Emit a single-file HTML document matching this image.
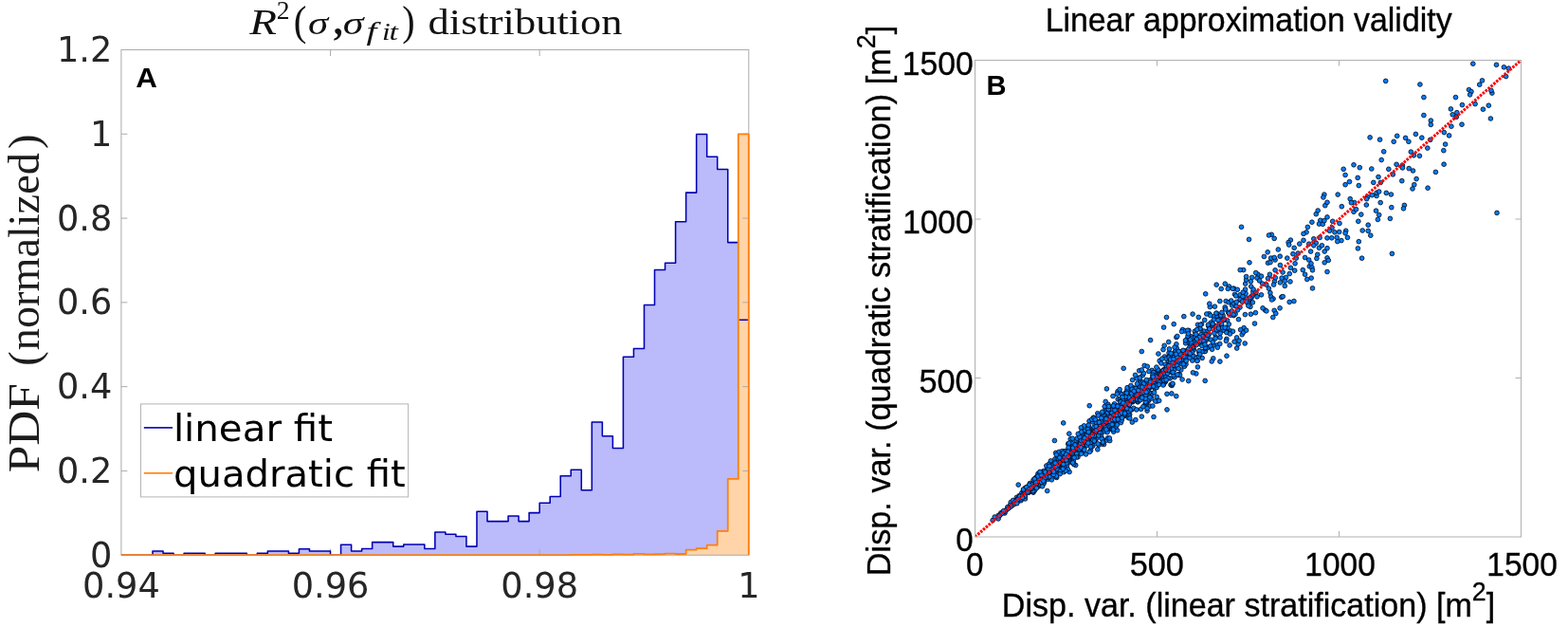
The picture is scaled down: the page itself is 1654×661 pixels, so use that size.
<!DOCTYPE html>
<html><head><meta charset="utf-8"><title>Figure</title>
<style>
html,body{margin:0;padding:0;background:#fff;}
body{width:1654px;height:661px;overflow:hidden;}
svg{display:block;}
.dj{font-family:"DejaVu Sans","Liberation Sans",sans-serif;font-size:36.7px;fill:#262626;}
.ar{font-family:"Liberation Sans",sans-serif;font-size:34px;fill:#000;stroke:#000;stroke-width:0.4px;}
</style></head><body>
<svg width="1654" height="661" viewBox="0 0 1654 661">
<rect width="1654" height="661" fill="#fff"/>
<g id="left">
<path d="M127.90 585.20 L127.90 585.20 L138.93 585.20 L138.93 585.20 L149.96 585.20 L149.96 585.20 L161.00 585.20 L161.00 581.00 L172.03 581.00 L172.03 583.20 L183.06 583.20 L183.06 585.20 L194.09 585.20 L194.09 583.20 L205.12 583.20 L205.12 583.20 L216.15 583.20 L216.15 585.20 L227.19 585.20 L227.19 583.20 L238.22 583.20 L238.22 583.20 L249.25 583.20 L249.25 583.20 L260.28 583.20 L260.28 585.20 L271.31 585.20 L271.31 583.20 L282.34 583.20 L282.34 581.00 L293.38 581.00 L293.38 581.00 L304.41 581.00 L304.41 583.20 L315.44 583.20 L315.44 578.70 L326.47 578.70 L326.47 581.00 L337.50 581.00 L337.50 581.00 L348.53 581.00 L348.53 585.20 L359.56 585.20 L359.56 574.20 L370.60 574.20 L370.60 581.00 L381.63 581.00 L381.63 578.40 L392.66 578.40 L392.66 571.60 L403.69 571.60 L403.69 571.60 L414.72 571.60 L414.72 576.10 L425.75 576.10 L425.75 573.90 L436.79 573.90 L436.79 573.90 L447.82 573.90 L447.82 578.40 L458.85 578.40 L458.85 561.00 L469.88 561.00 L469.88 563.30 L480.91 563.30 L480.91 565.50 L491.94 565.50 L491.94 576.10 L502.98 576.10 L502.98 539.30 L514.01 539.30 L514.01 549.60 L525.04 549.60 L525.04 549.60 L536.07 549.60 L536.07 543.90 L547.10 543.90 L547.10 549.60 L558.13 549.60 L558.13 540.60 L569.17 540.60 L569.17 530.30 L580.20 530.30 L580.20 523.50 L591.23 523.50 L591.23 501.70 L602.26 501.70 L602.26 495.20 L613.29 495.20 L613.29 516.70 L624.32 516.70 L624.32 445.00 L635.36 445.00 L635.36 459.80 L646.39 459.80 L646.39 472.50 L657.42 472.50 L657.42 376.30 L668.45 376.30 L668.45 367.40 L679.48 367.40 L679.48 321.50 L690.51 321.50 L690.51 284.40 L701.55 284.40 L701.55 277.20 L712.58 277.20 L712.58 233.70 L723.61 233.70 L723.61 203.10 L734.64 203.10 L734.64 141.40 L745.67 141.40 L745.67 165.30 L756.70 165.30 L756.70 178.50 L767.74 178.50 L767.74 255.60 L778.77 255.60 L778.77 337.20 L789.80 337.20 L789.80 585.20 Z" fill="#bbbbfb" stroke="none"/>
<path d="M127.90 585.20 L127.90 585.20 L138.93 585.20 L138.93 585.20 L149.96 585.20 L149.96 585.20 L161.00 585.20 L161.00 585.20 L172.03 585.20 L172.03 585.20 L183.06 585.20 L183.06 585.20 L194.09 585.20 L194.09 585.20 L205.12 585.20 L205.12 585.20 L216.15 585.20 L216.15 585.20 L227.19 585.20 L227.19 585.20 L238.22 585.20 L238.22 585.20 L249.25 585.20 L249.25 585.20 L260.28 585.20 L260.28 585.20 L271.31 585.20 L271.31 585.20 L282.34 585.20 L282.34 585.20 L293.38 585.20 L293.38 585.20 L304.41 585.20 L304.41 585.20 L315.44 585.20 L315.44 585.20 L326.47 585.20 L326.47 585.20 L337.50 585.20 L337.50 585.20 L348.53 585.20 L348.53 585.20 L359.56 585.20 L359.56 585.20 L370.60 585.20 L370.60 585.20 L381.63 585.20 L381.63 585.20 L392.66 585.20 L392.66 585.20 L403.69 585.20 L403.69 585.20 L414.72 585.20 L414.72 585.20 L425.75 585.20 L425.75 585.20 L436.79 585.20 L436.79 585.20 L447.82 585.20 L447.82 585.20 L458.85 585.20 L458.85 585.20 L469.88 585.20 L469.88 585.20 L480.91 585.20 L480.91 585.20 L491.94 585.20 L491.94 585.20 L502.98 585.20 L502.98 585.20 L514.01 585.20 L514.01 585.20 L525.04 585.20 L525.04 585.20 L536.07 585.20 L536.07 585.20 L547.10 585.20 L547.10 585.20 L558.13 585.20 L558.13 585.20 L569.17 585.20 L569.17 585.20 L580.20 585.20 L580.20 585.20 L591.23 585.20 L591.23 585.20 L602.26 585.20 L602.26 584.80 L613.29 584.80 L613.29 584.80 L624.32 584.80 L624.32 584.60 L635.36 584.60 L635.36 584.80 L646.39 584.80 L646.39 584.40 L657.42 584.40 L657.42 584.60 L668.45 584.60 L668.45 583.80 L679.48 583.80 L679.48 584.40 L690.51 584.40 L690.51 584.20 L701.55 584.20 L701.55 583.60 L712.58 583.60 L712.58 584.00 L723.61 584.00 L723.61 579.70 L734.64 579.70 L734.64 578.20 L745.67 578.20 L745.67 574.60 L756.70 574.60 L756.70 559.80 L767.74 559.80 L767.74 504.80 L778.77 504.80 L778.77 141.40 L789.80 141.40 L789.80 585.20 Z" fill="#ffd4a8" stroke="none"/>
<rect x="127.90" y="52.50" width="661.90" height="532.70" fill="none" stroke="#ababab" stroke-width="1"/>
<path d="M348.53 585.20 v-6.50 M348.53 52.50 v6.50" stroke="#ababab" stroke-width="1" fill="none"/>
<path d="M569.17 585.20 v-6.50 M569.17 52.50 v6.50" stroke="#ababab" stroke-width="1" fill="none"/>
<path d="M127.90 496.42 h6.50 M789.80 496.42 h-6.50" stroke="#ababab" stroke-width="1" fill="none"/>
<path d="M127.90 407.63 h6.50 M789.80 407.63 h-6.50" stroke="#ababab" stroke-width="1" fill="none"/>
<path d="M127.90 318.85 h6.50 M789.80 318.85 h-6.50" stroke="#ababab" stroke-width="1" fill="none"/>
<path d="M127.90 230.07 h6.50 M789.80 230.07 h-6.50" stroke="#ababab" stroke-width="1" fill="none"/>
<path d="M127.90 141.28 h6.50 M789.80 141.28 h-6.50" stroke="#ababab" stroke-width="1" fill="none"/>
<clipPath id="bc"><rect x="120" y="40" width="680" height="544.80"/></clipPath>
<path d="M127.90 585.20 L127.90 585.20 L138.93 585.20 L138.93 585.20 L149.96 585.20 L149.96 585.20 L161.00 585.20 L161.00 581.00 L172.03 581.00 L172.03 583.20 L183.06 583.20 L183.06 585.20 L194.09 585.20 L194.09 583.20 L205.12 583.20 L205.12 583.20 L216.15 583.20 L216.15 585.20 L227.19 585.20 L227.19 583.20 L238.22 583.20 L238.22 583.20 L249.25 583.20 L249.25 583.20 L260.28 583.20 L260.28 585.20 L271.31 585.20 L271.31 583.20 L282.34 583.20 L282.34 581.00 L293.38 581.00 L293.38 581.00 L304.41 581.00 L304.41 583.20 L315.44 583.20 L315.44 578.70 L326.47 578.70 L326.47 581.00 L337.50 581.00 L337.50 581.00 L348.53 581.00 L348.53 585.20 L359.56 585.20 L359.56 574.20 L370.60 574.20 L370.60 581.00 L381.63 581.00 L381.63 578.40 L392.66 578.40 L392.66 571.60 L403.69 571.60 L403.69 571.60 L414.72 571.60 L414.72 576.10 L425.75 576.10 L425.75 573.90 L436.79 573.90 L436.79 573.90 L447.82 573.90 L447.82 578.40 L458.85 578.40 L458.85 561.00 L469.88 561.00 L469.88 563.30 L480.91 563.30 L480.91 565.50 L491.94 565.50 L491.94 576.10 L502.98 576.10 L502.98 539.30 L514.01 539.30 L514.01 549.60 L525.04 549.60 L525.04 549.60 L536.07 549.60 L536.07 543.90 L547.10 543.90 L547.10 549.60 L558.13 549.60 L558.13 540.60 L569.17 540.60 L569.17 530.30 L580.20 530.30 L580.20 523.50 L591.23 523.50 L591.23 501.70 L602.26 501.70 L602.26 495.20 L613.29 495.20 L613.29 516.70 L624.32 516.70 L624.32 445.00 L635.36 445.00 L635.36 459.80 L646.39 459.80 L646.39 472.50 L657.42 472.50 L657.42 376.30 L668.45 376.30 L668.45 367.40 L679.48 367.40 L679.48 321.50 L690.51 321.50 L690.51 284.40 L701.55 284.40 L701.55 277.20 L712.58 277.20 L712.58 233.70 L723.61 233.70 L723.61 203.10 L734.64 203.10 L734.64 141.40 L745.67 141.40 L745.67 165.30 L756.70 165.30 L756.70 178.50 L767.74 178.50 L767.74 255.60 L778.77 255.60 M779.67 337.20 H788.90" fill="none" stroke="#0000b4" stroke-width="1.55" stroke-linejoin="round" clip-path="url(#bc)"/>
<path d="M127.90 585.20 L127.90 585.20 L138.93 585.20 L138.93 585.20 L149.96 585.20 L149.96 585.20 L161.00 585.20 L161.00 585.20 L172.03 585.20 L172.03 585.20 L183.06 585.20 L183.06 585.20 L194.09 585.20 L194.09 585.20 L205.12 585.20 L205.12 585.20 L216.15 585.20 L216.15 585.20 L227.19 585.20 L227.19 585.20 L238.22 585.20 L238.22 585.20 L249.25 585.20 L249.25 585.20 L260.28 585.20 L260.28 585.20 L271.31 585.20 L271.31 585.20 L282.34 585.20 L282.34 585.20 L293.38 585.20 L293.38 585.20 L304.41 585.20 L304.41 585.20 L315.44 585.20 L315.44 585.20 L326.47 585.20 L326.47 585.20 L337.50 585.20 L337.50 585.20 L348.53 585.20 L348.53 585.20 L359.56 585.20 L359.56 585.20 L370.60 585.20 L370.60 585.20 L381.63 585.20 L381.63 585.20 L392.66 585.20 L392.66 585.20 L403.69 585.20 L403.69 585.20 L414.72 585.20 L414.72 585.20 L425.75 585.20 L425.75 585.20 L436.79 585.20 L436.79 585.20 L447.82 585.20 L447.82 585.20 L458.85 585.20 L458.85 585.20 L469.88 585.20 L469.88 585.20 L480.91 585.20 L480.91 585.20 L491.94 585.20 L491.94 585.20 L502.98 585.20 L502.98 585.20 L514.01 585.20 L514.01 585.20 L525.04 585.20 L525.04 585.20 L536.07 585.20 L536.07 585.20 L547.10 585.20 L547.10 585.20 L558.13 585.20 L558.13 585.20 L569.17 585.20 L569.17 585.20 L580.20 585.20 L580.20 585.20 L591.23 585.20 L591.23 585.20 L602.26 585.20 L602.26 584.80 L613.29 584.80 L613.29 584.80 L624.32 584.80 L624.32 584.60 L635.36 584.60 L635.36 584.80 L646.39 584.80 L646.39 584.40 L657.42 584.40 L657.42 584.60 L668.45 584.60 L668.45 583.80 L679.48 583.80 L679.48 584.40 L690.51 584.40 L690.51 584.20 L701.55 584.20 L701.55 583.60 L712.58 583.60 L712.58 584.00 L723.61 584.00 L723.61 579.70 L734.64 579.70 L734.64 578.20 L745.67 578.20 L745.67 574.60 L756.70 574.60 L756.70 559.80 L767.74 559.80 L767.74 504.80 L778.77 504.80 L778.77 141.40 L789.80 141.40 L789.80 585.20" fill="none" stroke="#ff7f0e" stroke-width="1.8" stroke-linejoin="round"/>
<text x="127.90" y="629.7" class="dj" text-anchor="middle">0.94</text>
<text x="348.53" y="629.7" class="dj" text-anchor="middle">0.96</text>
<text x="569.17" y="629.7" class="dj" text-anchor="middle">0.98</text>
<text x="789.80" y="629.7" class="dj" text-anchor="middle">1</text>
<text x="118.4" y="597.70" class="dj" text-anchor="end">0</text>
<text x="118.4" y="508.92" class="dj" text-anchor="end">0.2</text>
<text x="118.4" y="420.13" class="dj" text-anchor="end">0.4</text>
<text x="118.4" y="331.35" class="dj" text-anchor="end">0.6</text>
<text x="118.4" y="242.57" class="dj" text-anchor="end">0.8</text>
<text x="118.4" y="153.78" class="dj" text-anchor="end">1</text>
<text x="118.4" y="65.00" class="dj" text-anchor="end">1.2</text>
<text transform="translate(263.20 35.70) scale(1.2085 1.0000)" font-family="'Liberation Serif',serif" font-style="italic" font-weight="normal" font-size="39" fill="#111" >R</text>
<text transform="translate(291.77 20.30) scale(1.0634 1.0203)" font-family="'Liberation Serif',serif" font-style="normal" font-weight="normal" font-size="26" fill="#111" >2</text>
<text transform="translate(309.86 36.50) scale(1.0500 1.1518)" font-family="'Liberation Serif',serif" font-style="normal" font-weight="normal" font-size="39" fill="#111" >(</text>
<text transform="translate(324.92 35.76) scale(1.1013 0.8723)" font-family="'Liberation Serif',serif" font-style="italic" font-weight="normal" font-size="39" fill="#111" >σ</text>
<text transform="translate(351.79 36.46) scale(1.0194 1.0894)" font-family="'Liberation Serif',serif" font-style="normal" font-weight="bold" font-size="39" fill="#111" >,</text>
<text transform="translate(361.78 35.76) scale(1.1325 0.8723)" font-family="'Liberation Serif',serif" font-style="italic" font-weight="normal" font-size="39" fill="#111" >σ</text>
<text transform="translate(386.42 42.20) scale(1.5100 1.0189)" font-family="'Liberation Serif',serif" font-style="italic" font-weight="normal" font-size="26" fill="#111" >f</text>
<text transform="translate(403.07 41.70) scale(1.2200 1.0000)" font-family="'Liberation Serif',serif" font-style="italic" font-weight="normal" font-size="26" fill="#111" >i</text>
<text transform="translate(410.57 41.70) scale(1.3077 1.0000)" font-family="'Liberation Serif',serif" font-style="italic" font-weight="normal" font-size="26" fill="#111" >t</text>
<text transform="translate(424.21 36.50) scale(1.0300 1.1518)" font-family="'Liberation Serif',serif" font-style="normal" font-weight="normal" font-size="39" fill="#111" >)</text>
<text transform="translate(451.62 36.00) scale(1.1819 1.0000)" font-family="'Liberation Serif',serif" font-style="normal" font-weight="normal" font-size="37.6" fill="#111" >distribution</text>
<text transform="translate(41.20 496.80) rotate(-90) scale(1.1030 1.0000)" x="-1.25" y="0" font-family="'Liberation Serif',serif" font-style="normal" font-weight="normal" font-size="46.5" fill="#1c1c1c" >PDF</text>
<text transform="translate(41.20 383.70) rotate(-90) scale(1.0000 1.0000)" x="-2.00" y="0" font-family="'Liberation Serif',serif" font-style="normal" font-weight="normal" font-size="46.5" fill="#1c1c1c" >(</text>
<text transform="translate(41.20 368.20) rotate(-90) scale(0.9945 1.0000)" x="-1.00" y="0" font-family="'Liberation Serif',serif" font-style="normal" font-weight="normal" font-size="46.5" fill="#1c1c1c" >normalized</text>
<text transform="translate(41.20 155.60) rotate(-90) scale(1.0000 1.0000)" x="-1.50" y="0" font-family="'Liberation Serif',serif" font-style="normal" font-weight="normal" font-size="46.5" fill="#1c1c1c" >)</text>
<text transform="translate(143.22 91.80) scale(1.0450 1.0000)" font-family="'Liberation Sans',sans-serif" font-style="normal" font-weight="bold" font-size="30" fill="#000" >A</text>
<rect x="148.5" y="425.9" width="282.1" height="98" fill="#fff" stroke="#b4b4b4" stroke-width="1"/>
<path d="M151.8 450.9 H182.1" stroke="#0000b4" stroke-width="1.6"/>
<path d="M151.8 498.8 H182.1" stroke="#ff7f0e" stroke-width="1.6"/>
<text transform="translate(182.90 464.50) scale(1.0395 1.0000)" font-family="'DejaVu Sans',sans-serif" font-style="normal" font-weight="normal" font-size="38.8" fill="#000" >linear fit</text>
<text transform="translate(183.07 513.10) scale(1.0338 1.0000)" font-family="'DejaVu Sans',sans-serif" font-style="normal" font-weight="normal" font-size="38.8" fill="#000" >quadratic fit</text>
</g>
<g id="right">
<rect x="1028.50" y="63.50" width="576.00" height="502.50" fill="none" stroke="#b0b0b0" stroke-width="1"/>
<path d="M1220.50 566.00 v-6 M1220.50 63.50 v6 M1028.50 398.50 h6 M1604.50 398.50 h-6" stroke="#b0b0b0" stroke-width="1" fill="none"/>
<path d="M1412.50 566.00 v-6 M1412.50 63.50 v6 M1028.50 231.00 h6 M1604.50 231.00 h-6" stroke="#b0b0b0" stroke-width="1" fill="none"/>
<g fill="#0080ff" stroke="#020c24" stroke-width="0.85">
<circle cx="1179.2" cy="420.9" r="2.35"/>
<circle cx="1217.8" cy="392.5" r="2.35"/>
<circle cx="1231.4" cy="392.8" r="2.35"/>
<circle cx="1144.8" cy="468.6" r="2.35"/>
<circle cx="1202.1" cy="398.1" r="2.35"/>
<circle cx="1392.8" cy="232.3" r="2.35"/>
<circle cx="1159.5" cy="457.3" r="2.35"/>
<circle cx="1166.7" cy="431.7" r="2.35"/>
<circle cx="1130.7" cy="475.8" r="2.35"/>
<circle cx="1188.6" cy="422.0" r="2.35"/>
<circle cx="1074.2" cy="511.1" r="2.35"/>
<circle cx="1082.1" cy="514.8" r="2.35"/>
<circle cx="1096.2" cy="509.0" r="2.35"/>
<circle cx="1205.5" cy="395.5" r="2.35"/>
<circle cx="1146.4" cy="465.3" r="2.35"/>
<circle cx="1109.5" cy="497.7" r="2.35"/>
<circle cx="1244.0" cy="394.8" r="2.35"/>
<circle cx="1149.0" cy="443.9" r="2.35"/>
<circle cx="1249.6" cy="374.0" r="2.35"/>
<circle cx="1151.1" cy="454.0" r="2.35"/>
<circle cx="1228.6" cy="376.0" r="2.35"/>
<circle cx="1189.1" cy="425.6" r="2.35"/>
<circle cx="1092.0" cy="504.1" r="2.35"/>
<circle cx="1361.0" cy="296.9" r="2.35"/>
<circle cx="1141.3" cy="472.2" r="2.35"/>
<circle cx="1166.7" cy="450.1" r="2.35"/>
<circle cx="1090.7" cy="515.3" r="2.35"/>
<circle cx="1170.6" cy="452.6" r="2.35"/>
<circle cx="1270.4" cy="370.6" r="2.35"/>
<circle cx="1506.1" cy="198.2" r="2.35"/>
<circle cx="1213.9" cy="405.9" r="2.35"/>
<circle cx="1253.6" cy="373.1" r="2.35"/>
<circle cx="1157.8" cy="435.8" r="2.35"/>
<circle cx="1086.4" cy="509.5" r="2.35"/>
<circle cx="1141.5" cy="454.6" r="2.35"/>
<circle cx="1132.2" cy="474.5" r="2.35"/>
<circle cx="1185.4" cy="425.8" r="2.35"/>
<circle cx="1133.8" cy="473.7" r="2.35"/>
<circle cx="1120.6" cy="485.3" r="2.35"/>
<circle cx="1268.2" cy="377.4" r="2.35"/>
<circle cx="1114.0" cy="498.4" r="2.35"/>
<circle cx="1274.0" cy="366.2" r="2.35"/>
<circle cx="1318.2" cy="317.7" r="2.35"/>
<circle cx="1254.0" cy="348.4" r="2.35"/>
<circle cx="1464.8" cy="178.3" r="2.35"/>
<circle cx="1214.6" cy="406.1" r="2.35"/>
<circle cx="1167.4" cy="409.9" r="2.35"/>
<circle cx="1340.6" cy="312.7" r="2.35"/>
<circle cx="1166.2" cy="423.4" r="2.35"/>
<circle cx="1334.6" cy="327.0" r="2.35"/>
<circle cx="1110.2" cy="496.6" r="2.35"/>
<circle cx="1469.3" cy="183.9" r="2.35"/>
<circle cx="1578.5" cy="68.3" r="2.35"/>
<circle cx="1206.4" cy="393.4" r="2.35"/>
<circle cx="1134.7" cy="475.7" r="2.35"/>
<circle cx="1412.7" cy="244.5" r="2.35"/>
<circle cx="1216.4" cy="398.2" r="2.35"/>
<circle cx="1542.0" cy="131.2" r="2.35"/>
<circle cx="1528.6" cy="142.9" r="2.35"/>
<circle cx="1452.1" cy="206.5" r="2.35"/>
<circle cx="1152.8" cy="458.9" r="2.35"/>
<circle cx="1165.5" cy="449.1" r="2.35"/>
<circle cx="1202.8" cy="420.1" r="2.35"/>
<circle cx="1158.0" cy="449.6" r="2.35"/>
<circle cx="1090.1" cy="519.1" r="2.35"/>
<circle cx="1327.0" cy="289.3" r="2.35"/>
<circle cx="1096.1" cy="509.6" r="2.35"/>
<circle cx="1146.3" cy="461.0" r="2.35"/>
<circle cx="1187.5" cy="428.5" r="2.35"/>
<circle cx="1407.9" cy="244.8" r="2.35"/>
<circle cx="1250.6" cy="361.8" r="2.35"/>
<circle cx="1127.2" cy="481.5" r="2.35"/>
<circle cx="1186.5" cy="417.6" r="2.35"/>
<circle cx="1245.1" cy="371.0" r="2.35"/>
<circle cx="1205.0" cy="410.8" r="2.35"/>
<circle cx="1105.6" cy="500.3" r="2.35"/>
<circle cx="1113.8" cy="490.4" r="2.35"/>
<circle cx="1155.5" cy="450.5" r="2.35"/>
<circle cx="1310.2" cy="352.7" r="2.35"/>
<circle cx="1082.9" cy="517.5" r="2.35"/>
<circle cx="1493.4" cy="141.4" r="2.35"/>
<circle cx="1234.1" cy="378.7" r="2.35"/>
<circle cx="1138.1" cy="466.5" r="2.35"/>
<circle cx="1122.1" cy="497.7" r="2.35"/>
<circle cx="1190.5" cy="413.6" r="2.35"/>
<circle cx="1090.0" cy="506.0" r="2.35"/>
<circle cx="1180.6" cy="439.5" r="2.35"/>
<circle cx="1077.9" cy="519.6" r="2.35"/>
<circle cx="1113.1" cy="495.8" r="2.35"/>
<circle cx="1133.2" cy="470.8" r="2.35"/>
<circle cx="1112.9" cy="490.9" r="2.35"/>
<circle cx="1224.2" cy="393.3" r="2.35"/>
<circle cx="1152.2" cy="458.9" r="2.35"/>
<circle cx="1302.1" cy="360.2" r="2.35"/>
<circle cx="1105.1" cy="504.4" r="2.35"/>
<circle cx="1156.7" cy="453.1" r="2.35"/>
<circle cx="1212.1" cy="401.9" r="2.35"/>
<circle cx="1093.7" cy="508.1" r="2.35"/>
<circle cx="1432.2" cy="187.4" r="2.35"/>
<circle cx="1167.5" cy="442.1" r="2.35"/>
<circle cx="1508.7" cy="147.4" r="2.35"/>
<circle cx="1132.4" cy="471.1" r="2.35"/>
<circle cx="1143.5" cy="472.8" r="2.35"/>
<circle cx="1380.7" cy="257.2" r="2.35"/>
<circle cx="1093.9" cy="510.0" r="2.35"/>
<circle cx="1160.9" cy="451.8" r="2.35"/>
<circle cx="1286.8" cy="317.5" r="2.35"/>
<circle cx="1267.5" cy="341.8" r="2.35"/>
<circle cx="1121.0" cy="482.4" r="2.35"/>
<circle cx="1177.8" cy="428.6" r="2.35"/>
<circle cx="1211.2" cy="419.4" r="2.35"/>
<circle cx="1195.0" cy="423.7" r="2.35"/>
<circle cx="1210.0" cy="410.1" r="2.35"/>
<circle cx="1264.2" cy="355.0" r="2.35"/>
<circle cx="1490.0" cy="199.0" r="2.35"/>
<circle cx="1443.2" cy="237.2" r="2.35"/>
<circle cx="1341.3" cy="247.3" r="2.35"/>
<circle cx="1086.6" cy="512.8" r="2.35"/>
<circle cx="1573.9" cy="98.1" r="2.35"/>
<circle cx="1088.9" cy="513.1" r="2.35"/>
<circle cx="1137.9" cy="475.1" r="2.35"/>
<circle cx="1124.0" cy="483.3" r="2.35"/>
<circle cx="1155.7" cy="458.0" r="2.35"/>
<circle cx="1435.8" cy="226.1" r="2.35"/>
<circle cx="1355.3" cy="301.4" r="2.35"/>
<circle cx="1137.0" cy="481.8" r="2.35"/>
<circle cx="1167.4" cy="445.1" r="2.35"/>
<circle cx="1245.8" cy="378.6" r="2.35"/>
<circle cx="1129.4" cy="482.2" r="2.35"/>
<circle cx="1096.3" cy="505.7" r="2.35"/>
<circle cx="1107.8" cy="488.2" r="2.35"/>
<circle cx="1445.1" cy="144.9" r="2.35"/>
<circle cx="1193.6" cy="411.9" r="2.35"/>
<circle cx="1083.7" cy="517.9" r="2.35"/>
<circle cx="1388.3" cy="256.2" r="2.35"/>
<circle cx="1107.4" cy="493.1" r="2.35"/>
<circle cx="1108.3" cy="495.7" r="2.35"/>
<circle cx="1102.5" cy="500.0" r="2.35"/>
<circle cx="1140.0" cy="472.7" r="2.35"/>
<circle cx="1157.2" cy="460.6" r="2.35"/>
<circle cx="1297.9" cy="348.9" r="2.35"/>
<circle cx="1219.1" cy="402.1" r="2.35"/>
<circle cx="1459.7" cy="159.8" r="2.35"/>
<circle cx="1271.2" cy="401.4" r="2.35"/>
<circle cx="1388.3" cy="225.7" r="2.35"/>
<circle cx="1103.7" cy="500.5" r="2.35"/>
<circle cx="1083.8" cy="514.2" r="2.35"/>
<circle cx="1294.6" cy="337.8" r="2.35"/>
<circle cx="1208.7" cy="410.9" r="2.35"/>
<circle cx="1419.1" cy="184.5" r="2.35"/>
<circle cx="1360.3" cy="288.6" r="2.35"/>
<circle cx="1202.6" cy="401.0" r="2.35"/>
<circle cx="1320.0" cy="314.1" r="2.35"/>
<circle cx="1109.6" cy="499.4" r="2.35"/>
<circle cx="1301.6" cy="304.2" r="2.35"/>
<circle cx="1171.1" cy="451.3" r="2.35"/>
<circle cx="1222.0" cy="400.8" r="2.35"/>
<circle cx="1201.7" cy="390.8" r="2.35"/>
<circle cx="1118.7" cy="496.8" r="2.35"/>
<circle cx="1181.4" cy="420.9" r="2.35"/>
<circle cx="1193.8" cy="431.9" r="2.35"/>
<circle cx="1144.4" cy="469.9" r="2.35"/>
<circle cx="1456.2" cy="213.6" r="2.35"/>
<circle cx="1432.8" cy="233.3" r="2.35"/>
<circle cx="1283.2" cy="300.2" r="2.35"/>
<circle cx="1058.1" cy="539.6" r="2.35"/>
<circle cx="1245.4" cy="374.0" r="2.35"/>
<circle cx="1129.2" cy="462.8" r="2.35"/>
<circle cx="1120.7" cy="489.2" r="2.35"/>
<circle cx="1069.7" cy="529.2" r="2.35"/>
<circle cx="1290.3" cy="335.7" r="2.35"/>
<circle cx="1350.1" cy="324.8" r="2.35"/>
<circle cx="1168.7" cy="445.0" r="2.35"/>
<circle cx="1142.1" cy="462.1" r="2.35"/>
<circle cx="1119.3" cy="482.0" r="2.35"/>
<circle cx="1400.0" cy="250.9" r="2.35"/>
<circle cx="1136.4" cy="476.8" r="2.35"/>
<circle cx="1149.7" cy="457.6" r="2.35"/>
<circle cx="1231.9" cy="390.0" r="2.35"/>
<circle cx="1461.7" cy="85.4" r="2.35"/>
<circle cx="1175.2" cy="439.7" r="2.35"/>
<circle cx="1153.5" cy="440.2" r="2.35"/>
<circle cx="1441.3" cy="216.0" r="2.35"/>
<circle cx="1101.4" cy="508.3" r="2.35"/>
<circle cx="1530.9" cy="133.2" r="2.35"/>
<circle cx="1428.0" cy="223.3" r="2.35"/>
<circle cx="1229.0" cy="391.0" r="2.35"/>
<circle cx="1111.2" cy="489.8" r="2.35"/>
<circle cx="1067.3" cy="531.4" r="2.35"/>
<circle cx="1215.8" cy="399.0" r="2.35"/>
<circle cx="1270.1" cy="349.1" r="2.35"/>
<circle cx="1214.9" cy="402.2" r="2.35"/>
<circle cx="1160.6" cy="446.5" r="2.35"/>
<circle cx="1252.4" cy="357.4" r="2.35"/>
<circle cx="1497.9" cy="89.0" r="2.35"/>
<circle cx="1215.1" cy="390.4" r="2.35"/>
<circle cx="1134.9" cy="480.2" r="2.35"/>
<circle cx="1171.8" cy="446.7" r="2.35"/>
<circle cx="1392.1" cy="250.5" r="2.35"/>
<circle cx="1345.1" cy="274.0" r="2.35"/>
<circle cx="1207.9" cy="408.2" r="2.35"/>
<circle cx="1138.0" cy="463.6" r="2.35"/>
<circle cx="1320.7" cy="292.5" r="2.35"/>
<circle cx="1424.2" cy="209.7" r="2.35"/>
<circle cx="1433.3" cy="195.6" r="2.35"/>
<circle cx="1100.8" cy="509.3" r="2.35"/>
<circle cx="1322.8" cy="309.9" r="2.35"/>
<circle cx="1173.7" cy="432.0" r="2.35"/>
<circle cx="1101.0" cy="503.7" r="2.35"/>
<circle cx="1175.5" cy="425.8" r="2.35"/>
<circle cx="1164.5" cy="468.5" r="2.35"/>
<circle cx="1317.1" cy="316.7" r="2.35"/>
<circle cx="1181.7" cy="432.4" r="2.35"/>
<circle cx="1289.9" cy="337.8" r="2.35"/>
<circle cx="1206.2" cy="414.3" r="2.35"/>
<circle cx="1107.6" cy="497.5" r="2.35"/>
<circle cx="1134.2" cy="477.3" r="2.35"/>
<circle cx="1117.6" cy="488.0" r="2.35"/>
<circle cx="1147.7" cy="457.1" r="2.35"/>
<circle cx="1292.4" cy="325.2" r="2.35"/>
<circle cx="1204.3" cy="439.1" r="2.35"/>
<circle cx="1144.6" cy="464.8" r="2.35"/>
<circle cx="1211.7" cy="403.5" r="2.35"/>
<circle cx="1233.0" cy="372.1" r="2.35"/>
<circle cx="1163.4" cy="439.1" r="2.35"/>
<circle cx="1206.9" cy="413.3" r="2.35"/>
<circle cx="1200.2" cy="409.5" r="2.35"/>
<circle cx="1218.3" cy="404.1" r="2.35"/>
<circle cx="1263.4" cy="386.9" r="2.35"/>
<circle cx="1223.9" cy="400.9" r="2.35"/>
<circle cx="1096.0" cy="508.4" r="2.35"/>
<circle cx="1211.4" cy="422.7" r="2.35"/>
<circle cx="1186.3" cy="437.9" r="2.35"/>
<circle cx="1152.6" cy="444.9" r="2.35"/>
<circle cx="1108.9" cy="495.3" r="2.35"/>
<circle cx="1137.8" cy="476.9" r="2.35"/>
<circle cx="1337.2" cy="265.8" r="2.35"/>
<circle cx="1397.8" cy="216.7" r="2.35"/>
<circle cx="1180.1" cy="439.0" r="2.35"/>
<circle cx="1128.8" cy="476.3" r="2.35"/>
<circle cx="1301.4" cy="332.6" r="2.35"/>
<circle cx="1454.7" cy="226.6" r="2.35"/>
<circle cx="1311.7" cy="284.6" r="2.35"/>
<circle cx="1191.7" cy="436.9" r="2.35"/>
<circle cx="1213.7" cy="418.1" r="2.35"/>
<circle cx="1280.8" cy="333.7" r="2.35"/>
<circle cx="1275.7" cy="344.2" r="2.35"/>
<circle cx="1258.9" cy="367.6" r="2.35"/>
<circle cx="1221.6" cy="390.5" r="2.35"/>
<circle cx="1148.2" cy="449.8" r="2.35"/>
<circle cx="1351.8" cy="313.2" r="2.35"/>
<circle cx="1074.2" cy="528.0" r="2.35"/>
<circle cx="1113.7" cy="477.4" r="2.35"/>
<circle cx="1123.2" cy="475.7" r="2.35"/>
<circle cx="1098.0" cy="506.4" r="2.35"/>
<circle cx="1192.5" cy="414.2" r="2.35"/>
<circle cx="1203.5" cy="403.3" r="2.35"/>
<circle cx="1111.6" cy="496.0" r="2.35"/>
<circle cx="1400.0" cy="213.3" r="2.35"/>
<circle cx="1085.3" cy="518.9" r="2.35"/>
<circle cx="1150.7" cy="466.6" r="2.35"/>
<circle cx="1153.0" cy="469.7" r="2.35"/>
<circle cx="1137.5" cy="472.1" r="2.35"/>
<circle cx="1115.6" cy="485.5" r="2.35"/>
<circle cx="1076.5" cy="526.2" r="2.35"/>
<circle cx="1101.8" cy="503.7" r="2.35"/>
<circle cx="1115.5" cy="492.1" r="2.35"/>
<circle cx="1266.9" cy="360.5" r="2.35"/>
<circle cx="1234.2" cy="398.9" r="2.35"/>
<circle cx="1247.1" cy="400.0" r="2.35"/>
<circle cx="1536.3" cy="123.3" r="2.35"/>
<circle cx="1068.0" cy="530.0" r="2.35"/>
<circle cx="1523.1" cy="173.2" r="2.35"/>
<circle cx="1385.8" cy="258.8" r="2.35"/>
<circle cx="1180.5" cy="435.6" r="2.35"/>
<circle cx="1089.0" cy="511.2" r="2.35"/>
<circle cx="1141.1" cy="460.8" r="2.35"/>
<circle cx="1312.1" cy="345.6" r="2.35"/>
<circle cx="1235.4" cy="379.0" r="2.35"/>
<circle cx="1234.8" cy="392.3" r="2.35"/>
<circle cx="1119.8" cy="480.8" r="2.35"/>
<circle cx="1176.6" cy="434.0" r="2.35"/>
<circle cx="1094.6" cy="513.4" r="2.35"/>
<circle cx="1092.7" cy="506.8" r="2.35"/>
<circle cx="1120.9" cy="483.5" r="2.35"/>
<circle cx="1284.1" cy="363.9" r="2.35"/>
<circle cx="1340.6" cy="272.1" r="2.35"/>
<circle cx="1215.5" cy="403.0" r="2.35"/>
<circle cx="1201.1" cy="415.2" r="2.35"/>
<circle cx="1108.9" cy="493.5" r="2.35"/>
<circle cx="1443.2" cy="243.4" r="2.35"/>
<circle cx="1274.2" cy="348.9" r="2.35"/>
<circle cx="1186.1" cy="427.0" r="2.35"/>
<circle cx="1143.9" cy="471.8" r="2.35"/>
<circle cx="1419.7" cy="243.3" r="2.35"/>
<circle cx="1159.6" cy="448.4" r="2.35"/>
<circle cx="1280.9" cy="351.3" r="2.35"/>
<circle cx="1187.2" cy="430.4" r="2.35"/>
<circle cx="1185.9" cy="438.4" r="2.35"/>
<circle cx="1174.7" cy="455.2" r="2.35"/>
<circle cx="1191.4" cy="426.0" r="2.35"/>
<circle cx="1085.9" cy="514.8" r="2.35"/>
<circle cx="1288.3" cy="343.1" r="2.35"/>
<circle cx="1089.9" cy="512.0" r="2.35"/>
<circle cx="1248.4" cy="372.8" r="2.35"/>
<circle cx="1164.0" cy="434.2" r="2.35"/>
<circle cx="1264.8" cy="371.4" r="2.35"/>
<circle cx="1059.9" cy="541.0" r="2.35"/>
<circle cx="1214.1" cy="400.6" r="2.35"/>
<circle cx="1117.2" cy="476.4" r="2.35"/>
<circle cx="1321.8" cy="307.7" r="2.35"/>
<circle cx="1224.8" cy="395.8" r="2.35"/>
<circle cx="1152.1" cy="461.5" r="2.35"/>
<circle cx="1103.3" cy="501.3" r="2.35"/>
<circle cx="1076.7" cy="525.1" r="2.35"/>
<circle cx="1208.7" cy="414.0" r="2.35"/>
<circle cx="1247.3" cy="373.7" r="2.35"/>
<circle cx="1238.2" cy="341.7" r="2.35"/>
<circle cx="1381.3" cy="280.8" r="2.35"/>
<circle cx="1379.4" cy="239.4" r="2.35"/>
<circle cx="1218.4" cy="409.2" r="2.35"/>
<circle cx="1227.6" cy="389.8" r="2.35"/>
<circle cx="1243.6" cy="380.3" r="2.35"/>
<circle cx="1136.1" cy="463.8" r="2.35"/>
<circle cx="1104.9" cy="493.0" r="2.35"/>
<circle cx="1095.0" cy="499.3" r="2.35"/>
<circle cx="1308.2" cy="284.6" r="2.35"/>
<circle cx="1121.7" cy="483.8" r="2.35"/>
<circle cx="1296.5" cy="302.0" r="2.35"/>
<circle cx="1153.6" cy="454.7" r="2.35"/>
<circle cx="1198.6" cy="415.3" r="2.35"/>
<circle cx="1249.9" cy="370.7" r="2.35"/>
<circle cx="1167.5" cy="442.5" r="2.35"/>
<circle cx="1062.3" cy="536.5" r="2.35"/>
<circle cx="1248.6" cy="375.0" r="2.35"/>
<circle cx="1289.5" cy="332.0" r="2.35"/>
<circle cx="1111.5" cy="497.1" r="2.35"/>
<circle cx="1159.9" cy="447.9" r="2.35"/>
<circle cx="1108.4" cy="485.9" r="2.35"/>
<circle cx="1190.4" cy="430.0" r="2.35"/>
<circle cx="1303.2" cy="322.6" r="2.35"/>
<circle cx="1302.5" cy="310.3" r="2.35"/>
<circle cx="1122.7" cy="485.1" r="2.35"/>
<circle cx="1284.1" cy="333.3" r="2.35"/>
<circle cx="1226.2" cy="395.7" r="2.35"/>
<circle cx="1110.0" cy="491.0" r="2.35"/>
<circle cx="1505.8" cy="156.1" r="2.35"/>
<circle cx="1162.6" cy="451.8" r="2.35"/>
<circle cx="1217.9" cy="397.9" r="2.35"/>
<circle cx="1229.6" cy="402.2" r="2.35"/>
<circle cx="1157.4" cy="444.7" r="2.35"/>
<circle cx="1153.2" cy="442.2" r="2.35"/>
<circle cx="1282.4" cy="355.4" r="2.35"/>
<circle cx="1405.1" cy="240.1" r="2.35"/>
<circle cx="1129.8" cy="487.2" r="2.35"/>
<circle cx="1278.4" cy="341.8" r="2.35"/>
<circle cx="1161.6" cy="459.2" r="2.35"/>
<circle cx="1155.0" cy="450.8" r="2.35"/>
<circle cx="1165.1" cy="439.4" r="2.35"/>
<circle cx="1319.7" cy="302.0" r="2.35"/>
<circle cx="1204.1" cy="419.9" r="2.35"/>
<circle cx="1220.1" cy="408.6" r="2.35"/>
<circle cx="1127.8" cy="457.2" r="2.35"/>
<circle cx="1088.2" cy="513.7" r="2.35"/>
<circle cx="1088.4" cy="511.6" r="2.35"/>
<circle cx="1216.4" cy="394.2" r="2.35"/>
<circle cx="1276.3" cy="323.5" r="2.35"/>
<circle cx="1175.6" cy="440.1" r="2.35"/>
<circle cx="1163.0" cy="448.6" r="2.35"/>
<circle cx="1361.4" cy="253.1" r="2.35"/>
<circle cx="1282.1" cy="356.8" r="2.35"/>
<circle cx="1396.9" cy="205.1" r="2.35"/>
<circle cx="1282.1" cy="345.4" r="2.35"/>
<circle cx="1119.8" cy="481.6" r="2.35"/>
<circle cx="1228.3" cy="389.9" r="2.35"/>
<circle cx="1207.8" cy="403.3" r="2.35"/>
<circle cx="1219.0" cy="394.7" r="2.35"/>
<circle cx="1457.2" cy="168.6" r="2.35"/>
<circle cx="1150.4" cy="456.9" r="2.35"/>
<circle cx="1247.5" cy="347.5" r="2.35"/>
<circle cx="1142.7" cy="475.6" r="2.35"/>
<circle cx="1080.5" cy="523.1" r="2.35"/>
<circle cx="1167.4" cy="464.1" r="2.35"/>
<circle cx="1291.5" cy="337.1" r="2.35"/>
<circle cx="1145.7" cy="454.2" r="2.35"/>
<circle cx="1428.6" cy="213.5" r="2.35"/>
<circle cx="1259.2" cy="369.0" r="2.35"/>
<circle cx="1172.1" cy="447.2" r="2.35"/>
<circle cx="1101.2" cy="503.1" r="2.35"/>
<circle cx="1233.4" cy="367.9" r="2.35"/>
<circle cx="1084.9" cy="519.2" r="2.35"/>
<circle cx="1299.7" cy="322.0" r="2.35"/>
<circle cx="1087.8" cy="514.3" r="2.35"/>
<circle cx="1128.7" cy="480.6" r="2.35"/>
<circle cx="1117.8" cy="488.9" r="2.35"/>
<circle cx="1553.8" cy="67.2" r="2.35"/>
<circle cx="1197.3" cy="416.1" r="2.35"/>
<circle cx="1239.8" cy="386.2" r="2.35"/>
<circle cx="1219.9" cy="400.0" r="2.35"/>
<circle cx="1200.2" cy="423.8" r="2.35"/>
<circle cx="1200.9" cy="422.8" r="2.35"/>
<circle cx="1155.9" cy="451.6" r="2.35"/>
<circle cx="1250.2" cy="370.1" r="2.35"/>
<circle cx="1179.0" cy="412.7" r="2.35"/>
<circle cx="1175.0" cy="434.1" r="2.35"/>
<circle cx="1093.4" cy="502.9" r="2.35"/>
<circle cx="1187.8" cy="422.9" r="2.35"/>
<circle cx="1115.2" cy="492.9" r="2.35"/>
<circle cx="1097.5" cy="501.8" r="2.35"/>
<circle cx="1254.5" cy="357.4" r="2.35"/>
<circle cx="1222.2" cy="405.2" r="2.35"/>
<circle cx="1172.3" cy="438.0" r="2.35"/>
<circle cx="1133.7" cy="477.5" r="2.35"/>
<circle cx="1151.4" cy="453.1" r="2.35"/>
<circle cx="1388.9" cy="272.4" r="2.35"/>
<circle cx="1494.1" cy="188.6" r="2.35"/>
<circle cx="1337.5" cy="277.2" r="2.35"/>
<circle cx="1257.8" cy="380.1" r="2.35"/>
<circle cx="1271.4" cy="370.3" r="2.35"/>
<circle cx="1391.5" cy="236.1" r="2.35"/>
<circle cx="1072.4" cy="524.4" r="2.35"/>
<circle cx="1112.9" cy="493.3" r="2.35"/>
<circle cx="1143.3" cy="462.1" r="2.35"/>
<circle cx="1102.3" cy="504.7" r="2.35"/>
<circle cx="1436.6" cy="272.2" r="2.35"/>
<circle cx="1086.8" cy="511.2" r="2.35"/>
<circle cx="1307.5" cy="312.1" r="2.35"/>
<circle cx="1143.5" cy="475.7" r="2.35"/>
<circle cx="1097.0" cy="508.1" r="2.35"/>
<circle cx="1188.7" cy="438.3" r="2.35"/>
<circle cx="1144.3" cy="454.2" r="2.35"/>
<circle cx="1300.5" cy="349.3" r="2.35"/>
<circle cx="1080.0" cy="519.1" r="2.35"/>
<circle cx="1201.3" cy="415.1" r="2.35"/>
<circle cx="1376.6" cy="289.3" r="2.35"/>
<circle cx="1072.0" cy="530.1" r="2.35"/>
<circle cx="1272.3" cy="356.7" r="2.35"/>
<circle cx="1224.0" cy="403.8" r="2.35"/>
<circle cx="1257.2" cy="360.4" r="2.35"/>
<circle cx="1185.3" cy="428.6" r="2.35"/>
<circle cx="1093.2" cy="506.0" r="2.35"/>
<circle cx="1196.4" cy="413.9" r="2.35"/>
<circle cx="1348.3" cy="263.0" r="2.35"/>
<circle cx="1146.9" cy="461.3" r="2.35"/>
<circle cx="1172.8" cy="447.6" r="2.35"/>
<circle cx="1260.0" cy="362.5" r="2.35"/>
<circle cx="1165.4" cy="449.1" r="2.35"/>
<circle cx="1196.2" cy="409.1" r="2.35"/>
<circle cx="1188.1" cy="414.7" r="2.35"/>
<circle cx="1168.1" cy="429.8" r="2.35"/>
<circle cx="1104.7" cy="500.1" r="2.35"/>
<circle cx="1251.0" cy="376.3" r="2.35"/>
<circle cx="1174.0" cy="417.6" r="2.35"/>
<circle cx="1053.1" cy="546.9" r="2.35"/>
<circle cx="1190.0" cy="427.3" r="2.35"/>
<circle cx="1272.2" cy="367.7" r="2.35"/>
<circle cx="1082.3" cy="518.1" r="2.35"/>
<circle cx="1288.2" cy="304.5" r="2.35"/>
<circle cx="1173.9" cy="429.3" r="2.35"/>
<circle cx="1128.1" cy="483.4" r="2.35"/>
<circle cx="1192.2" cy="424.7" r="2.35"/>
<circle cx="1188.9" cy="411.1" r="2.35"/>
<circle cx="1270.7" cy="337.4" r="2.35"/>
<circle cx="1293.9" cy="357.4" r="2.35"/>
<circle cx="1340.0" cy="276.6" r="2.35"/>
<circle cx="1118.9" cy="494.3" r="2.35"/>
<circle cx="1205.4" cy="403.1" r="2.35"/>
<circle cx="1055.8" cy="540.8" r="2.35"/>
<circle cx="1129.8" cy="472.8" r="2.35"/>
<circle cx="1181.1" cy="413.7" r="2.35"/>
<circle cx="1380.7" cy="274.0" r="2.35"/>
<circle cx="1164.3" cy="455.0" r="2.35"/>
<circle cx="1117.2" cy="487.0" r="2.35"/>
<circle cx="1182.6" cy="422.4" r="2.35"/>
<circle cx="1171.5" cy="442.9" r="2.35"/>
<circle cx="1290.1" cy="332.8" r="2.35"/>
<circle cx="1203.5" cy="431.3" r="2.35"/>
<circle cx="1124.1" cy="484.4" r="2.35"/>
<circle cx="1308.0" cy="324.0" r="2.35"/>
<circle cx="1532.2" cy="120.8" r="2.35"/>
<circle cx="1090.7" cy="511.7" r="2.35"/>
<circle cx="1134.0" cy="471.9" r="2.35"/>
<circle cx="1138.5" cy="464.3" r="2.35"/>
<circle cx="1085.5" cy="518.4" r="2.35"/>
<circle cx="1242.6" cy="376.4" r="2.35"/>
<circle cx="1211.3" cy="420.9" r="2.35"/>
<circle cx="1356.5" cy="292.5" r="2.35"/>
<circle cx="1549.5" cy="94.6" r="2.35"/>
<circle cx="1366.1" cy="277.8" r="2.35"/>
<circle cx="1486.2" cy="177.6" r="2.35"/>
<circle cx="1220.6" cy="423.0" r="2.35"/>
<circle cx="1281.4" cy="323.2" r="2.35"/>
<circle cx="1103.6" cy="497.8" r="2.35"/>
<circle cx="1118.0" cy="493.4" r="2.35"/>
<circle cx="1128.4" cy="468.6" r="2.35"/>
<circle cx="1150.6" cy="474.8" r="2.35"/>
<circle cx="1564.4" cy="115.2" r="2.35"/>
<circle cx="1080.4" cy="524.7" r="2.35"/>
<circle cx="1481.4" cy="216.4" r="2.35"/>
<circle cx="1400.0" cy="286.5" r="2.35"/>
<circle cx="1161.3" cy="450.0" r="2.35"/>
<circle cx="1204.6" cy="411.7" r="2.35"/>
<circle cx="1249.0" cy="372.9" r="2.35"/>
<circle cx="1102.7" cy="498.9" r="2.35"/>
<circle cx="1223.2" cy="397.2" r="2.35"/>
<circle cx="1199.1" cy="398.9" r="2.35"/>
<circle cx="1264.3" cy="334.4" r="2.35"/>
<circle cx="1075.3" cy="527.1" r="2.35"/>
<circle cx="1190.9" cy="438.2" r="2.35"/>
<circle cx="1169.2" cy="430.1" r="2.35"/>
<circle cx="1335.8" cy="300.1" r="2.35"/>
<circle cx="1206.1" cy="419.3" r="2.35"/>
<circle cx="1203.7" cy="409.8" r="2.35"/>
<circle cx="1180.6" cy="437.4" r="2.35"/>
<circle cx="1084.1" cy="516.6" r="2.35"/>
<circle cx="1425.4" cy="213.7" r="2.35"/>
<circle cx="1162.4" cy="467.9" r="2.35"/>
<circle cx="1275.4" cy="330.8" r="2.35"/>
<circle cx="1509.3" cy="127.1" r="2.35"/>
<circle cx="1325.0" cy="308.5" r="2.35"/>
<circle cx="1125.0" cy="479.0" r="2.35"/>
<circle cx="1183.2" cy="415.7" r="2.35"/>
<circle cx="1136.6" cy="472.2" r="2.35"/>
<circle cx="1342.8" cy="334.5" r="2.35"/>
<circle cx="1168.6" cy="461.9" r="2.35"/>
<circle cx="1127.4" cy="484.0" r="2.35"/>
<circle cx="1171.5" cy="434.0" r="2.35"/>
<circle cx="1203.8" cy="412.5" r="2.35"/>
<circle cx="1214.6" cy="420.1" r="2.35"/>
<circle cx="1098.7" cy="502.6" r="2.35"/>
<circle cx="1316.4" cy="319.1" r="2.35"/>
<circle cx="1273.2" cy="366.8" r="2.35"/>
<circle cx="1207.7" cy="408.6" r="2.35"/>
<circle cx="1172.1" cy="446.0" r="2.35"/>
<circle cx="1414.9" cy="253.6" r="2.35"/>
<circle cx="1182.5" cy="423.3" r="2.35"/>
<circle cx="1286.1" cy="340.9" r="2.35"/>
<circle cx="1181.6" cy="431.3" r="2.35"/>
<circle cx="1267.9" cy="370.8" r="2.35"/>
<circle cx="1292.2" cy="323.8" r="2.35"/>
<circle cx="1108.5" cy="491.9" r="2.35"/>
<circle cx="1057.8" cy="540.3" r="2.35"/>
<circle cx="1215.2" cy="415.0" r="2.35"/>
<circle cx="1107.4" cy="494.8" r="2.35"/>
<circle cx="1360.2" cy="318.4" r="2.35"/>
<circle cx="1134.2" cy="470.4" r="2.35"/>
<circle cx="1226.0" cy="391.2" r="2.35"/>
<circle cx="1445.8" cy="248.2" r="2.35"/>
<circle cx="1100.2" cy="507.7" r="2.35"/>
<circle cx="1287.0" cy="355.9" r="2.35"/>
<circle cx="1338.4" cy="304.1" r="2.35"/>
<circle cx="1330.5" cy="310.8" r="2.35"/>
<circle cx="1228.0" cy="400.8" r="2.35"/>
<circle cx="1258.9" cy="375.3" r="2.35"/>
<circle cx="1075.8" cy="524.7" r="2.35"/>
<circle cx="1077.4" cy="523.0" r="2.35"/>
<circle cx="1421.4" cy="250.4" r="2.35"/>
<circle cx="1153.5" cy="454.9" r="2.35"/>
<circle cx="1275.8" cy="320.2" r="2.35"/>
<circle cx="1338.5" cy="248.0" r="2.35"/>
<circle cx="1343.1" cy="315.0" r="2.35"/>
<circle cx="1223.6" cy="402.0" r="2.35"/>
<circle cx="1350.2" cy="270.2" r="2.35"/>
<circle cx="1279.8" cy="364.0" r="2.35"/>
<circle cx="1433.3" cy="254.7" r="2.35"/>
<circle cx="1136.7" cy="475.2" r="2.35"/>
<circle cx="1542.4" cy="110.6" r="2.35"/>
<circle cx="1239.5" cy="370.9" r="2.35"/>
<circle cx="1269.3" cy="357.7" r="2.35"/>
<circle cx="1133.7" cy="469.3" r="2.35"/>
<circle cx="1283.2" cy="347.2" r="2.35"/>
<circle cx="1139.4" cy="465.5" r="2.35"/>
<circle cx="1247.0" cy="378.0" r="2.35"/>
<circle cx="1173.6" cy="442.9" r="2.35"/>
<circle cx="1187.6" cy="431.1" r="2.35"/>
<circle cx="1187.4" cy="425.4" r="2.35"/>
<circle cx="1075.4" cy="524.9" r="2.35"/>
<circle cx="1103.8" cy="491.0" r="2.35"/>
<circle cx="1270.9" cy="360.1" r="2.35"/>
<circle cx="1243.8" cy="371.0" r="2.35"/>
<circle cx="1442.6" cy="207.6" r="2.35"/>
<circle cx="1204.3" cy="390.0" r="2.35"/>
<circle cx="1068.3" cy="530.9" r="2.35"/>
<circle cx="1499.8" cy="145.2" r="2.35"/>
<circle cx="1570.3" cy="111.2" r="2.35"/>
<circle cx="1194.6" cy="400.6" r="2.35"/>
<circle cx="1149.0" cy="454.5" r="2.35"/>
<circle cx="1161.2" cy="445.6" r="2.35"/>
<circle cx="1266.2" cy="347.0" r="2.35"/>
<circle cx="1268.9" cy="352.3" r="2.35"/>
<circle cx="1308.6" cy="347.6" r="2.35"/>
<circle cx="1172.9" cy="432.4" r="2.35"/>
<circle cx="1173.4" cy="440.6" r="2.35"/>
<circle cx="1294.0" cy="375.2" r="2.35"/>
<circle cx="1232.3" cy="380.8" r="2.35"/>
<circle cx="1066.9" cy="532.4" r="2.35"/>
<circle cx="1404.8" cy="250.8" r="2.35"/>
<circle cx="1096.5" cy="508.1" r="2.35"/>
<circle cx="1101.9" cy="504.4" r="2.35"/>
<circle cx="1099.1" cy="510.3" r="2.35"/>
<circle cx="1145.1" cy="457.6" r="2.35"/>
<circle cx="1326.0" cy="293.1" r="2.35"/>
<circle cx="1189.9" cy="431.2" r="2.35"/>
<circle cx="1070.3" cy="529.1" r="2.35"/>
<circle cx="1141.7" cy="462.8" r="2.35"/>
<circle cx="1410.8" cy="254.6" r="2.35"/>
<circle cx="1120.0" cy="494.4" r="2.35"/>
<circle cx="1514.4" cy="181.4" r="2.35"/>
<circle cx="1199.8" cy="422.9" r="2.35"/>
<circle cx="1226.5" cy="396.9" r="2.35"/>
<circle cx="1132.4" cy="486.3" r="2.35"/>
<circle cx="1130.4" cy="474.1" r="2.35"/>
<circle cx="1309.8" cy="312.7" r="2.35"/>
<circle cx="1236.4" cy="387.6" r="2.35"/>
<circle cx="1192.8" cy="423.2" r="2.35"/>
<circle cx="1088.3" cy="512.1" r="2.35"/>
<circle cx="1353.1" cy="287.0" r="2.35"/>
<circle cx="1430.5" cy="220.7" r="2.35"/>
<circle cx="1376.6" cy="271.5" r="2.35"/>
<circle cx="1260.6" cy="350.0" r="2.35"/>
<circle cx="1156.9" cy="462.3" r="2.35"/>
<circle cx="1468.4" cy="267.4" r="2.35"/>
<circle cx="1203.7" cy="419.4" r="2.35"/>
<circle cx="1202.9" cy="418.6" r="2.35"/>
<circle cx="1151.7" cy="442.1" r="2.35"/>
<circle cx="1126.0" cy="483.4" r="2.35"/>
<circle cx="1071.5" cy="527.4" r="2.35"/>
<circle cx="1301.0" cy="319.8" r="2.35"/>
<circle cx="1195.2" cy="422.7" r="2.35"/>
<circle cx="1523.3" cy="139.6" r="2.35"/>
<circle cx="1172.3" cy="443.9" r="2.35"/>
<circle cx="1143.3" cy="467.8" r="2.35"/>
<circle cx="1176.6" cy="443.9" r="2.35"/>
<circle cx="1290.6" cy="337.4" r="2.35"/>
<circle cx="1344.4" cy="296.7" r="2.35"/>
<circle cx="1225.9" cy="401.2" r="2.35"/>
<circle cx="1260.4" cy="349.2" r="2.35"/>
<circle cx="1231.1" cy="392.2" r="2.35"/>
<circle cx="1086.5" cy="517.9" r="2.35"/>
<circle cx="1153.0" cy="452.3" r="2.35"/>
<circle cx="1522.8" cy="158.7" r="2.35"/>
<circle cx="1135.6" cy="473.8" r="2.35"/>
<circle cx="1295.6" cy="329.3" r="2.35"/>
<circle cx="1240.2" cy="369.7" r="2.35"/>
<circle cx="1230.0" cy="378.1" r="2.35"/>
<circle cx="1153.8" cy="453.3" r="2.35"/>
<circle cx="1588.6" cy="80.6" r="2.35"/>
<circle cx="1118.8" cy="483.4" r="2.35"/>
<circle cx="1286.2" cy="336.7" r="2.35"/>
<circle cx="1204.9" cy="414.8" r="2.35"/>
<circle cx="1279.8" cy="377.9" r="2.35"/>
<circle cx="1106.5" cy="489.4" r="2.35"/>
<circle cx="1114.7" cy="503.4" r="2.35"/>
<circle cx="1180.1" cy="435.1" r="2.35"/>
<circle cx="1118.4" cy="483.1" r="2.35"/>
<circle cx="1365.7" cy="285.2" r="2.35"/>
<circle cx="1259.9" cy="355.4" r="2.35"/>
<circle cx="1181.1" cy="410.6" r="2.35"/>
<circle cx="1147.4" cy="461.3" r="2.35"/>
<circle cx="1309.2" cy="316.6" r="2.35"/>
<circle cx="1216.8" cy="392.5" r="2.35"/>
<circle cx="1154.9" cy="454.3" r="2.35"/>
<circle cx="1184.5" cy="422.0" r="2.35"/>
<circle cx="1065.4" cy="534.1" r="2.35"/>
<circle cx="1318.9" cy="323.4" r="2.35"/>
<circle cx="1383.9" cy="281.9" r="2.35"/>
<circle cx="1170.6" cy="444.3" r="2.35"/>
<circle cx="1197.5" cy="395.4" r="2.35"/>
<circle cx="1242.6" cy="382.1" r="2.35"/>
<circle cx="1572.4" cy="125.0" r="2.35"/>
<circle cx="1303.1" cy="331.1" r="2.35"/>
<circle cx="1078.5" cy="525.8" r="2.35"/>
<circle cx="1280.3" cy="337.0" r="2.35"/>
<circle cx="1146.0" cy="463.6" r="2.35"/>
<circle cx="1074.7" cy="526.1" r="2.35"/>
<circle cx="1175.7" cy="442.2" r="2.35"/>
<circle cx="1306.5" cy="336.7" r="2.35"/>
<circle cx="1488.3" cy="160.1" r="2.35"/>
<circle cx="1293.4" cy="359.4" r="2.35"/>
<circle cx="1240.9" cy="362.8" r="2.35"/>
<circle cx="1361.4" cy="282.3" r="2.35"/>
<circle cx="1246.0" cy="376.7" r="2.35"/>
<circle cx="1238.6" cy="389.9" r="2.35"/>
<circle cx="1187.1" cy="414.4" r="2.35"/>
<circle cx="1084.3" cy="515.4" r="2.35"/>
<circle cx="1116.5" cy="490.4" r="2.35"/>
<circle cx="1281.9" cy="343.8" r="2.35"/>
<circle cx="1142.0" cy="471.7" r="2.35"/>
<circle cx="1560.7" cy="89.2" r="2.35"/>
<circle cx="1194.3" cy="445.1" r="2.35"/>
<circle cx="1156.0" cy="459.0" r="2.35"/>
<circle cx="1304.7" cy="367.1" r="2.35"/>
<circle cx="1122.8" cy="484.1" r="2.35"/>
<circle cx="1395.3" cy="236.3" r="2.35"/>
<circle cx="1274.8" cy="343.9" r="2.35"/>
<circle cx="1138.6" cy="474.7" r="2.35"/>
<circle cx="1165.2" cy="428.6" r="2.35"/>
<circle cx="1135.7" cy="476.7" r="2.35"/>
<circle cx="1199.0" cy="421.5" r="2.35"/>
<circle cx="1184.8" cy="439.1" r="2.35"/>
<circle cx="1391.5" cy="261.3" r="2.35"/>
<circle cx="1411.2" cy="205.1" r="2.35"/>
<circle cx="1109.5" cy="490.6" r="2.35"/>
<circle cx="1239.4" cy="382.6" r="2.35"/>
<circle cx="1150.0" cy="461.8" r="2.35"/>
<circle cx="1154.8" cy="457.9" r="2.35"/>
<circle cx="1246.8" cy="382.5" r="2.35"/>
<circle cx="1308.0" cy="310.9" r="2.35"/>
<circle cx="1179.5" cy="440.7" r="2.35"/>
<circle cx="1124.5" cy="483.7" r="2.35"/>
<circle cx="1269.2" cy="354.7" r="2.35"/>
<circle cx="1183.2" cy="434.1" r="2.35"/>
<circle cx="1233.9" cy="391.1" r="2.35"/>
<circle cx="1219.5" cy="398.1" r="2.35"/>
<circle cx="1497.4" cy="164.3" r="2.35"/>
<circle cx="1291.0" cy="348.3" r="2.35"/>
<circle cx="1352.1" cy="293.1" r="2.35"/>
<circle cx="1382.6" cy="265.1" r="2.35"/>
<circle cx="1320.6" cy="311.9" r="2.35"/>
<circle cx="1090.9" cy="512.3" r="2.35"/>
<circle cx="1100.2" cy="506.8" r="2.35"/>
<circle cx="1092.3" cy="508.8" r="2.35"/>
<circle cx="1172.8" cy="435.7" r="2.35"/>
<circle cx="1145.5" cy="459.7" r="2.35"/>
<circle cx="1287.4" cy="338.7" r="2.35"/>
<circle cx="1212.9" cy="428.2" r="2.35"/>
<circle cx="1145.5" cy="478.9" r="2.35"/>
<circle cx="1102.2" cy="505.3" r="2.35"/>
<circle cx="1150.8" cy="458.5" r="2.35"/>
<circle cx="1208.0" cy="426.2" r="2.35"/>
<circle cx="1209.4" cy="424.8" r="2.35"/>
<circle cx="1105.4" cy="505.2" r="2.35"/>
<circle cx="1154.5" cy="465.2" r="2.35"/>
<circle cx="1129.9" cy="479.1" r="2.35"/>
<circle cx="1172.9" cy="435.3" r="2.35"/>
<circle cx="1417.2" cy="178.3" r="2.35"/>
<circle cx="1233.6" cy="375.3" r="2.35"/>
<circle cx="1313.7" cy="299.1" r="2.35"/>
<circle cx="1200.8" cy="417.9" r="2.35"/>
<circle cx="1212.5" cy="413.6" r="2.35"/>
<circle cx="1134.7" cy="490.4" r="2.35"/>
<circle cx="1092.4" cy="508.8" r="2.35"/>
<circle cx="1591.4" cy="72.1" r="2.35"/>
<circle cx="1113.4" cy="502.7" r="2.35"/>
<circle cx="1188.5" cy="414.4" r="2.35"/>
<circle cx="1090.8" cy="512.5" r="2.35"/>
<circle cx="1339.4" cy="289.3" r="2.35"/>
<circle cx="1257.0" cy="358.1" r="2.35"/>
<circle cx="1091.4" cy="510.8" r="2.35"/>
<circle cx="1177.3" cy="445.5" r="2.35"/>
<circle cx="1106.1" cy="503.2" r="2.35"/>
<circle cx="1116.2" cy="486.9" r="2.35"/>
<circle cx="1218.8" cy="399.8" r="2.35"/>
<circle cx="1310.1" cy="315.2" r="2.35"/>
<circle cx="1054.9" cy="543.1" r="2.35"/>
<circle cx="1087.2" cy="517.0" r="2.35"/>
<circle cx="1245.8" cy="390.0" r="2.35"/>
<circle cx="1079.7" cy="517.7" r="2.35"/>
<circle cx="1208.7" cy="424.1" r="2.35"/>
<circle cx="1293.2" cy="317.5" r="2.35"/>
<circle cx="1137.6" cy="476.8" r="2.35"/>
<circle cx="1447.4" cy="205.7" r="2.35"/>
<circle cx="1151.9" cy="457.5" r="2.35"/>
<circle cx="1159.0" cy="450.8" r="2.35"/>
<circle cx="1126.0" cy="488.0" r="2.35"/>
<circle cx="1103.8" cy="498.3" r="2.35"/>
<circle cx="1452.1" cy="203.3" r="2.35"/>
<circle cx="1292.7" cy="326.0" r="2.35"/>
<circle cx="1501.9" cy="121.5" r="2.35"/>
<circle cx="1344.2" cy="327.3" r="2.35"/>
<circle cx="1177.8" cy="437.2" r="2.35"/>
<circle cx="1397.2" cy="265.1" r="2.35"/>
<circle cx="1197.7" cy="419.9" r="2.35"/>
<circle cx="1189.1" cy="408.7" r="2.35"/>
<circle cx="1108.4" cy="498.4" r="2.35"/>
<circle cx="1235.0" cy="405.7" r="2.35"/>
<circle cx="1096.7" cy="502.8" r="2.35"/>
<circle cx="1138.8" cy="467.6" r="2.35"/>
<circle cx="1089.4" cy="510.6" r="2.35"/>
<circle cx="1345.3" cy="292.8" r="2.35"/>
<circle cx="1125.5" cy="490.4" r="2.35"/>
<circle cx="1195.8" cy="430.3" r="2.35"/>
<circle cx="1232.3" cy="387.4" r="2.35"/>
<circle cx="1188.4" cy="424.8" r="2.35"/>
<circle cx="1286.9" cy="381.1" r="2.35"/>
<circle cx="1178.6" cy="453.7" r="2.35"/>
<circle cx="1191.5" cy="420.2" r="2.35"/>
<circle cx="1304.2" cy="322.8" r="2.35"/>
<circle cx="1378.1" cy="244.8" r="2.35"/>
<circle cx="1059.5" cy="538.9" r="2.35"/>
<circle cx="1190.6" cy="433.8" r="2.35"/>
<circle cx="1135.2" cy="464.8" r="2.35"/>
<circle cx="1066.9" cy="533.5" r="2.35"/>
<circle cx="1344.2" cy="271.5" r="2.35"/>
<circle cx="1586.4" cy="70.8" r="2.35"/>
<circle cx="1252.0" cy="370.4" r="2.35"/>
<circle cx="1261.8" cy="393.9" r="2.35"/>
<circle cx="1313.4" cy="331.6" r="2.35"/>
<circle cx="1142.5" cy="470.8" r="2.35"/>
<circle cx="1294.3" cy="349.8" r="2.35"/>
<circle cx="1265.8" cy="346.5" r="2.35"/>
<circle cx="1171.2" cy="439.8" r="2.35"/>
<circle cx="1265.8" cy="360.3" r="2.35"/>
<circle cx="1165.6" cy="447.6" r="2.35"/>
<circle cx="1314.6" cy="295.0" r="2.35"/>
<circle cx="1277.2" cy="358.2" r="2.35"/>
<circle cx="1139.3" cy="471.0" r="2.35"/>
<circle cx="1087.3" cy="514.2" r="2.35"/>
<circle cx="1139.5" cy="456.8" r="2.35"/>
<circle cx="1157.8" cy="473.8" r="2.35"/>
<circle cx="1170.1" cy="443.7" r="2.35"/>
<circle cx="1345.1" cy="284.8" r="2.35"/>
<circle cx="1213.6" cy="358.6" r="2.35"/>
<circle cx="1294.8" cy="345.4" r="2.35"/>
<circle cx="1219.4" cy="396.6" r="2.35"/>
<circle cx="1269.3" cy="362.4" r="2.35"/>
<circle cx="1164.2" cy="437.2" r="2.35"/>
<circle cx="1413.0" cy="235.5" r="2.35"/>
<circle cx="1115.3" cy="493.8" r="2.35"/>
<circle cx="1434.3" cy="176.7" r="2.35"/>
<circle cx="1109.2" cy="495.0" r="2.35"/>
<circle cx="1176.8" cy="443.4" r="2.35"/>
<circle cx="1126.7" cy="468.0" r="2.35"/>
<circle cx="1258.5" cy="366.9" r="2.35"/>
<circle cx="1157.8" cy="448.9" r="2.35"/>
<circle cx="1224.3" cy="404.1" r="2.35"/>
<circle cx="1214.4" cy="408.0" r="2.35"/>
<circle cx="1217.2" cy="402.3" r="2.35"/>
<circle cx="1276.7" cy="332.5" r="2.35"/>
<circle cx="1131.9" cy="476.9" r="2.35"/>
<circle cx="1198.8" cy="431.9" r="2.35"/>
<circle cx="1572.9" cy="95.3" r="2.35"/>
<circle cx="1200.0" cy="420.6" r="2.35"/>
<circle cx="1285.1" cy="348.8" r="2.35"/>
<circle cx="1112.1" cy="493.3" r="2.35"/>
<circle cx="1183.6" cy="426.4" r="2.35"/>
<circle cx="1223.2" cy="380.4" r="2.35"/>
<circle cx="1357.8" cy="272.1" r="2.35"/>
<circle cx="1078.3" cy="522.5" r="2.35"/>
<circle cx="1328.6" cy="295.9" r="2.35"/>
<circle cx="1074.4" cy="524.9" r="2.35"/>
<circle cx="1158.5" cy="448.4" r="2.35"/>
<circle cx="1242.2" cy="379.0" r="2.35"/>
<circle cx="1122.8" cy="493.9" r="2.35"/>
<circle cx="1071.5" cy="529.5" r="2.35"/>
<circle cx="1311.8" cy="350.2" r="2.35"/>
<circle cx="1250.5" cy="358.9" r="2.35"/>
<circle cx="1120.4" cy="475.6" r="2.35"/>
<circle cx="1256.8" cy="354.8" r="2.35"/>
<circle cx="1375.0" cy="253.3" r="2.35"/>
<circle cx="1176.2" cy="429.5" r="2.35"/>
<circle cx="1295.3" cy="304.4" r="2.35"/>
<circle cx="1124.9" cy="488.3" r="2.35"/>
<circle cx="1228.2" cy="364.3" r="2.35"/>
<circle cx="1167.7" cy="435.9" r="2.35"/>
<circle cx="1087.0" cy="515.7" r="2.35"/>
<circle cx="1135.8" cy="468.4" r="2.35"/>
<circle cx="1179.4" cy="427.5" r="2.35"/>
<circle cx="1202.4" cy="398.3" r="2.35"/>
<circle cx="1069.2" cy="530.3" r="2.35"/>
<circle cx="1181.9" cy="423.8" r="2.35"/>
<circle cx="1132.7" cy="477.9" r="2.35"/>
<circle cx="1210.1" cy="433.1" r="2.35"/>
<circle cx="1277.7" cy="343.6" r="2.35"/>
<circle cx="1383.2" cy="293.1" r="2.35"/>
<circle cx="1258.8" cy="365.3" r="2.35"/>
<circle cx="1145.1" cy="466.2" r="2.35"/>
<circle cx="1117.2" cy="488.0" r="2.35"/>
<circle cx="1232.7" cy="360.5" r="2.35"/>
<circle cx="1147.4" cy="452.3" r="2.35"/>
<circle cx="1152.0" cy="470.9" r="2.35"/>
<circle cx="1132.7" cy="489.4" r="2.35"/>
<circle cx="1201.0" cy="409.8" r="2.35"/>
<circle cx="1158.8" cy="444.6" r="2.35"/>
<circle cx="1350.4" cy="279.5" r="2.35"/>
<circle cx="1225.8" cy="378.2" r="2.35"/>
<circle cx="1076.9" cy="527.7" r="2.35"/>
<circle cx="1240.2" cy="374.9" r="2.35"/>
<circle cx="1143.5" cy="448.9" r="2.35"/>
<circle cx="1128.1" cy="497.5" r="2.35"/>
<circle cx="1160.4" cy="456.1" r="2.35"/>
<circle cx="1160.5" cy="450.6" r="2.35"/>
<circle cx="1482.6" cy="145.4" r="2.35"/>
<circle cx="1115.5" cy="494.1" r="2.35"/>
<circle cx="1536.8" cy="118.7" r="2.35"/>
<circle cx="1222.3" cy="395.1" r="2.35"/>
<circle cx="1211.4" cy="403.5" r="2.35"/>
<circle cx="1151.6" cy="465.9" r="2.35"/>
<circle cx="1129.1" cy="479.9" r="2.35"/>
<circle cx="1091.9" cy="509.9" r="2.35"/>
<circle cx="1119.1" cy="485.9" r="2.35"/>
<circle cx="1456.3" cy="192.4" r="2.35"/>
<circle cx="1168.6" cy="451.8" r="2.35"/>
<circle cx="1056.9" cy="541.3" r="2.35"/>
<circle cx="1142.7" cy="463.9" r="2.35"/>
<circle cx="1157.0" cy="456.0" r="2.35"/>
<circle cx="1098.1" cy="505.9" r="2.35"/>
<circle cx="1081.5" cy="515.1" r="2.35"/>
<circle cx="1304.6" cy="355.9" r="2.35"/>
<circle cx="1530.4" cy="114.9" r="2.35"/>
<circle cx="1177.3" cy="435.4" r="2.35"/>
<circle cx="1276.0" cy="346.5" r="2.35"/>
<circle cx="1122.3" cy="485.6" r="2.35"/>
<circle cx="1251.7" cy="370.1" r="2.35"/>
<circle cx="1122.4" cy="478.5" r="2.35"/>
<circle cx="1314.1" cy="309.6" r="2.35"/>
<circle cx="1155.0" cy="464.0" r="2.35"/>
<circle cx="1197.4" cy="420.7" r="2.35"/>
<circle cx="1128.6" cy="475.7" r="2.35"/>
<circle cx="1479.4" cy="174.3" r="2.35"/>
<circle cx="1451.5" cy="222.2" r="2.35"/>
<circle cx="1148.5" cy="458.0" r="2.35"/>
<circle cx="1271.7" cy="309.8" r="2.35"/>
<circle cx="1193.0" cy="407.7" r="2.35"/>
<circle cx="1226.5" cy="391.9" r="2.35"/>
<circle cx="1168.5" cy="444.3" r="2.35"/>
<circle cx="1258.1" cy="366.2" r="2.35"/>
<circle cx="1196.9" cy="413.7" r="2.35"/>
<circle cx="1163.8" cy="437.3" r="2.35"/>
<circle cx="1297.1" cy="364.0" r="2.35"/>
<circle cx="1253.0" cy="354.4" r="2.35"/>
<circle cx="1239.1" cy="397.7" r="2.35"/>
<circle cx="1154.8" cy="453.9" r="2.35"/>
<circle cx="1119.5" cy="484.2" r="2.35"/>
<circle cx="1161.4" cy="455.8" r="2.35"/>
<circle cx="1109.4" cy="505.8" r="2.35"/>
<circle cx="1309.5" cy="239.3" r="2.35"/>
<circle cx="1257.6" cy="356.3" r="2.35"/>
<circle cx="1191.1" cy="422.3" r="2.35"/>
<circle cx="1066.2" cy="529.6" r="2.35"/>
<circle cx="1095.0" cy="507.2" r="2.35"/>
<circle cx="1400.0" cy="271.9" r="2.35"/>
<circle cx="1207.2" cy="418.2" r="2.35"/>
<circle cx="1216.1" cy="396.6" r="2.35"/>
<circle cx="1062.0" cy="537.3" r="2.35"/>
<circle cx="1186.5" cy="426.2" r="2.35"/>
<circle cx="1317.5" cy="252.4" r="2.35"/>
<circle cx="1244.7" cy="376.0" r="2.35"/>
<circle cx="1389.8" cy="268.3" r="2.35"/>
<circle cx="1177.0" cy="450.0" r="2.35"/>
<circle cx="1180.3" cy="437.6" r="2.35"/>
<circle cx="1197.5" cy="421.2" r="2.35"/>
<circle cx="1243.3" cy="381.0" r="2.35"/>
<circle cx="1235.5" cy="388.8" r="2.35"/>
<circle cx="1123.6" cy="476.0" r="2.35"/>
<circle cx="1118.1" cy="496.4" r="2.35"/>
<circle cx="1394.4" cy="258.8" r="2.35"/>
<circle cx="1175.1" cy="437.5" r="2.35"/>
<circle cx="1064.3" cy="535.4" r="2.35"/>
<circle cx="1211.1" cy="401.7" r="2.35"/>
<circle cx="1119.0" cy="483.9" r="2.35"/>
<circle cx="1163.0" cy="462.8" r="2.35"/>
<circle cx="1150.0" cy="464.5" r="2.35"/>
<circle cx="1249.8" cy="348.9" r="2.35"/>
<circle cx="1182.4" cy="445.6" r="2.35"/>
<circle cx="1164.9" cy="440.9" r="2.35"/>
<circle cx="1189.7" cy="424.3" r="2.35"/>
<circle cx="1183.7" cy="437.4" r="2.35"/>
<circle cx="1256.7" cy="361.1" r="2.35"/>
<circle cx="1174.1" cy="451.9" r="2.35"/>
<circle cx="1344.2" cy="251.4" r="2.35"/>
<circle cx="1306.1" cy="363.0" r="2.35"/>
<circle cx="1161.5" cy="449.6" r="2.35"/>
<circle cx="1123.6" cy="479.0" r="2.35"/>
<circle cx="1178.1" cy="437.8" r="2.35"/>
<circle cx="1201.1" cy="412.5" r="2.35"/>
<circle cx="1122.0" cy="484.7" r="2.35"/>
<circle cx="1158.7" cy="459.1" r="2.35"/>
<circle cx="1191.1" cy="419.1" r="2.35"/>
<circle cx="1164.5" cy="448.5" r="2.35"/>
<circle cx="1212.9" cy="418.9" r="2.35"/>
<circle cx="1110.8" cy="499.9" r="2.35"/>
<circle cx="1085.6" cy="517.7" r="2.35"/>
<circle cx="1099.3" cy="499.4" r="2.35"/>
<circle cx="1130.4" cy="472.7" r="2.35"/>
<circle cx="1579.0" cy="224.4" r="2.35"/>
<circle cx="1171.2" cy="445.1" r="2.35"/>
<circle cx="1131.3" cy="462.3" r="2.35"/>
<circle cx="1556.1" cy="109.6" r="2.35"/>
<circle cx="1296.3" cy="341.8" r="2.35"/>
<circle cx="1230.2" cy="397.5" r="2.35"/>
<circle cx="1419.1" cy="245.8" r="2.35"/>
<circle cx="1133.6" cy="468.5" r="2.35"/>
<circle cx="1112.9" cy="483.9" r="2.35"/>
<circle cx="1246.5" cy="383.8" r="2.35"/>
<circle cx="1089.5" cy="518.7" r="2.35"/>
<circle cx="1170.0" cy="449.0" r="2.35"/>
<circle cx="1065.4" cy="532.7" r="2.35"/>
<circle cx="1130.8" cy="467.6" r="2.35"/>
<circle cx="1124.0" cy="480.2" r="2.35"/>
<circle cx="1275.7" cy="346.8" r="2.35"/>
<circle cx="1287.2" cy="351.4" r="2.35"/>
<circle cx="1135.7" cy="478.4" r="2.35"/>
<circle cx="1094.2" cy="502.6" r="2.35"/>
<circle cx="1319.4" cy="331.2" r="2.35"/>
<circle cx="1146.9" cy="460.2" r="2.35"/>
<circle cx="1168.0" cy="455.7" r="2.35"/>
<circle cx="1367.3" cy="272.1" r="2.35"/>
<circle cx="1072.7" cy="526.9" r="2.35"/>
<circle cx="1163.5" cy="466.7" r="2.35"/>
<circle cx="1453.4" cy="231.4" r="2.35"/>
<circle cx="1225.3" cy="396.8" r="2.35"/>
<circle cx="1402.5" cy="243.3" r="2.35"/>
<circle cx="1194.6" cy="422.8" r="2.35"/>
<circle cx="1156.5" cy="445.7" r="2.35"/>
<circle cx="1136.9" cy="470.0" r="2.35"/>
<circle cx="1272.4" cy="358.5" r="2.35"/>
<circle cx="1125.9" cy="482.0" r="2.35"/>
<circle cx="1247.9" cy="371.8" r="2.35"/>
<circle cx="1385.8" cy="251.8" r="2.35"/>
<circle cx="1236.1" cy="406.4" r="2.35"/>
<circle cx="1158.5" cy="438.0" r="2.35"/>
<circle cx="1249.4" cy="386.3" r="2.35"/>
<circle cx="1345.8" cy="330.4" r="2.35"/>
<circle cx="1467.8" cy="218.7" r="2.35"/>
<circle cx="1117.1" cy="489.6" r="2.35"/>
<circle cx="1142.1" cy="459.0" r="2.35"/>
<circle cx="1250.1" cy="371.0" r="2.35"/>
<circle cx="1126.1" cy="482.6" r="2.35"/>
<circle cx="1326.0" cy="312.8" r="2.35"/>
<circle cx="1112.5" cy="492.9" r="2.35"/>
<circle cx="1298.1" cy="332.2" r="2.35"/>
<circle cx="1105.9" cy="503.5" r="2.35"/>
<circle cx="1390.2" cy="222.0" r="2.35"/>
<circle cx="1161.9" cy="444.5" r="2.35"/>
<circle cx="1140.7" cy="463.6" r="2.35"/>
<circle cx="1214.1" cy="407.4" r="2.35"/>
<circle cx="1107.0" cy="502.6" r="2.35"/>
<circle cx="1210.9" cy="412.6" r="2.35"/>
<circle cx="1196.7" cy="416.1" r="2.35"/>
<circle cx="1473.1" cy="173.3" r="2.35"/>
<circle cx="1239.8" cy="385.5" r="2.35"/>
<circle cx="1246.2" cy="379.4" r="2.35"/>
<circle cx="1271.4" cy="366.5" r="2.35"/>
<circle cx="1151.0" cy="462.1" r="2.35"/>
<circle cx="1374.3" cy="284.6" r="2.35"/>
<circle cx="1252.7" cy="348.3" r="2.35"/>
<circle cx="1218.8" cy="423.0" r="2.35"/>
<circle cx="1279.5" cy="360.8" r="2.35"/>
<circle cx="1263.7" cy="362.2" r="2.35"/>
<circle cx="1115.2" cy="484.0" r="2.35"/>
<circle cx="1293.8" cy="350.5" r="2.35"/>
<circle cx="1122.2" cy="492.6" r="2.35"/>
<circle cx="1161.5" cy="449.3" r="2.35"/>
<circle cx="1238.1" cy="395.7" r="2.35"/>
<circle cx="1079.7" cy="516.3" r="2.35"/>
<circle cx="1248.8" cy="333.6" r="2.35"/>
<circle cx="1255.0" cy="365.6" r="2.35"/>
<circle cx="1047.1" cy="548.6" r="2.35"/>
<circle cx="1195.7" cy="422.2" r="2.35"/>
<circle cx="1169.0" cy="426.4" r="2.35"/>
<circle cx="1237.5" cy="376.9" r="2.35"/>
<circle cx="1221.0" cy="397.5" r="2.35"/>
<circle cx="1485.9" cy="149.3" r="2.35"/>
<circle cx="1159.4" cy="454.3" r="2.35"/>
<circle cx="1049.2" cy="545.0" r="2.35"/>
<circle cx="1223.4" cy="395.3" r="2.35"/>
<circle cx="1104.7" cy="517.5" r="2.35"/>
<circle cx="1233.2" cy="376.9" r="2.35"/>
<circle cx="1116.5" cy="485.0" r="2.35"/>
<circle cx="1315.1" cy="314.9" r="2.35"/>
<circle cx="1213.5" cy="402.2" r="2.35"/>
<circle cx="1428.0" cy="173.8" r="2.35"/>
<circle cx="1115.7" cy="490.8" r="2.35"/>
<circle cx="1091.7" cy="516.7" r="2.35"/>
<circle cx="1169.7" cy="429.1" r="2.35"/>
<circle cx="1141.5" cy="469.6" r="2.35"/>
<circle cx="1129.5" cy="478.1" r="2.35"/>
<circle cx="1278.2" cy="381.0" r="2.35"/>
<circle cx="1208.5" cy="416.8" r="2.35"/>
<circle cx="1419.1" cy="194.7" r="2.35"/>
<circle cx="1196.5" cy="413.5" r="2.35"/>
<circle cx="1217.0" cy="439.5" r="2.35"/>
<circle cx="1142.3" cy="466.2" r="2.35"/>
<circle cx="1316.8" cy="322.3" r="2.35"/>
<circle cx="1263.0" cy="380.1" r="2.35"/>
<circle cx="1113.8" cy="496.2" r="2.35"/>
<circle cx="1120.1" cy="478.6" r="2.35"/>
<circle cx="1112.4" cy="499.4" r="2.35"/>
<circle cx="1247.6" cy="371.4" r="2.35"/>
<circle cx="1185.7" cy="437.5" r="2.35"/>
<circle cx="1318.0" cy="276.8" r="2.35"/>
<circle cx="1087.7" cy="515.8" r="2.35"/>
<circle cx="1227.2" cy="390.5" r="2.35"/>
<circle cx="1229.5" cy="397.8" r="2.35"/>
<circle cx="1068.9" cy="532.1" r="2.35"/>
<circle cx="1276.9" cy="364.9" r="2.35"/>
<circle cx="1139.5" cy="467.3" r="2.35"/>
<circle cx="1196.5" cy="415.1" r="2.35"/>
<circle cx="1251.0" cy="383.9" r="2.35"/>
<circle cx="1189.5" cy="430.5" r="2.35"/>
<circle cx="1267.0" cy="352.6" r="2.35"/>
<circle cx="1121.7" cy="445.9" r="2.35"/>
<circle cx="1187.0" cy="418.4" r="2.35"/>
<circle cx="1083.4" cy="513.4" r="2.35"/>
<circle cx="1144.2" cy="458.4" r="2.35"/>
<circle cx="1314.6" cy="348.2" r="2.35"/>
<circle cx="1341.5" cy="316.0" r="2.35"/>
<circle cx="1234.7" cy="381.6" r="2.35"/>
<circle cx="1149.7" cy="465.2" r="2.35"/>
<circle cx="1079.0" cy="523.3" r="2.35"/>
<circle cx="1267.9" cy="364.6" r="2.35"/>
<circle cx="1148.1" cy="448.1" r="2.35"/>
<circle cx="1177.1" cy="431.5" r="2.35"/>
<circle cx="1491.3" cy="163.8" r="2.35"/>
<circle cx="1252.8" cy="371.9" r="2.35"/>
<circle cx="1089.7" cy="517.6" r="2.35"/>
<circle cx="1094.0" cy="508.8" r="2.35"/>
<circle cx="1108.1" cy="491.8" r="2.35"/>
<circle cx="1169.3" cy="431.4" r="2.35"/>
<circle cx="1152.2" cy="460.2" r="2.35"/>
<circle cx="1085.7" cy="511.3" r="2.35"/>
<circle cx="1159.7" cy="455.5" r="2.35"/>
<circle cx="1217.1" cy="395.8" r="2.35"/>
<circle cx="1116.3" cy="488.9" r="2.35"/>
<circle cx="1289.4" cy="345.4" r="2.35"/>
<circle cx="1183.3" cy="443.0" r="2.35"/>
<circle cx="1125.0" cy="479.4" r="2.35"/>
<circle cx="1189.3" cy="428.8" r="2.35"/>
<circle cx="1154.4" cy="459.3" r="2.35"/>
<circle cx="1296.1" cy="318.7" r="2.35"/>
<circle cx="1123.1" cy="482.1" r="2.35"/>
<circle cx="1140.1" cy="473.3" r="2.35"/>
<circle cx="1240.9" cy="355.6" r="2.35"/>
<circle cx="1227.3" cy="393.9" r="2.35"/>
<circle cx="1236.4" cy="376.5" r="2.35"/>
<circle cx="1260.8" cy="355.1" r="2.35"/>
<circle cx="1165.6" cy="444.2" r="2.35"/>
<circle cx="1149.4" cy="461.1" r="2.35"/>
<circle cx="1099.8" cy="507.2" r="2.35"/>
<circle cx="1088.5" cy="515.1" r="2.35"/>
<circle cx="1221.1" cy="401.3" r="2.35"/>
<circle cx="1096.6" cy="499.1" r="2.35"/>
<circle cx="1099.6" cy="497.3" r="2.35"/>
<circle cx="1234.7" cy="379.0" r="2.35"/>
<circle cx="1110.3" cy="492.0" r="2.35"/>
<circle cx="1160.3" cy="449.2" r="2.35"/>
<circle cx="1169.5" cy="428.5" r="2.35"/>
<circle cx="1227.6" cy="345.1" r="2.35"/>
<circle cx="1241.3" cy="367.2" r="2.35"/>
<circle cx="1195.5" cy="422.2" r="2.35"/>
<circle cx="1228.6" cy="403.0" r="2.35"/>
<circle cx="1131.2" cy="478.1" r="2.35"/>
<circle cx="1244.9" cy="373.1" r="2.35"/>
<circle cx="1255.7" cy="368.3" r="2.35"/>
<circle cx="1157.9" cy="453.3" r="2.35"/>
<circle cx="1410.2" cy="250.3" r="2.35"/>
<circle cx="1099.0" cy="503.6" r="2.35"/>
<circle cx="1132.0" cy="470.4" r="2.35"/>
<circle cx="1359.1" cy="255.6" r="2.35"/>
<circle cx="1184.6" cy="429.6" r="2.35"/>
<circle cx="1216.0" cy="395.2" r="2.35"/>
<circle cx="1115.7" cy="488.5" r="2.35"/>
<circle cx="1145.8" cy="458.4" r="2.35"/>
<circle cx="1249.0" cy="383.0" r="2.35"/>
<circle cx="1563.5" cy="84.9" r="2.35"/>
<circle cx="1400.0" cy="261.7" r="2.35"/>
<circle cx="1066.0" cy="534.1" r="2.35"/>
<circle cx="1140.3" cy="450.9" r="2.35"/>
<circle cx="1101.6" cy="496.3" r="2.35"/>
<circle cx="1211.8" cy="409.1" r="2.35"/>
<circle cx="1201.5" cy="420.3" r="2.35"/>
<circle cx="1199.6" cy="421.0" r="2.35"/>
<circle cx="1130.2" cy="477.1" r="2.35"/>
<circle cx="1277.4" cy="340.1" r="2.35"/>
<circle cx="1083.1" cy="516.8" r="2.35"/>
<circle cx="1308.1" cy="315.6" r="2.35"/>
<circle cx="1269.9" cy="359.6" r="2.35"/>
<circle cx="1221.4" cy="389.4" r="2.35"/>
<circle cx="1162.7" cy="434.3" r="2.35"/>
<circle cx="1121.4" cy="477.3" r="2.35"/>
<circle cx="1297.4" cy="352.0" r="2.35"/>
<circle cx="1167.9" cy="450.2" r="2.35"/>
<circle cx="1262.6" cy="347.5" r="2.35"/>
<circle cx="1127.7" cy="467.1" r="2.35"/>
<circle cx="1106.3" cy="494.2" r="2.35"/>
<circle cx="1208.4" cy="423.6" r="2.35"/>
<circle cx="1162.2" cy="462.5" r="2.35"/>
<circle cx="1244.0" cy="395.6" r="2.35"/>
<circle cx="1253.4" cy="351.8" r="2.35"/>
<circle cx="1104.3" cy="499.0" r="2.35"/>
<circle cx="1105.0" cy="496.8" r="2.35"/>
<circle cx="1095.5" cy="511.5" r="2.35"/>
<circle cx="1198.3" cy="410.0" r="2.35"/>
<circle cx="1350.4" cy="297.9" r="2.35"/>
<circle cx="1232.0" cy="398.7" r="2.35"/>
<circle cx="1155.8" cy="452.4" r="2.35"/>
<circle cx="1170.7" cy="464.6" r="2.35"/>
<circle cx="1470.2" cy="149.3" r="2.35"/>
<circle cx="1254.4" cy="361.4" r="2.35"/>
<circle cx="1241.8" cy="354.5" r="2.35"/>
<circle cx="1206.7" cy="404.3" r="2.35"/>
<circle cx="1210.0" cy="430.4" r="2.35"/>
<circle cx="1359.7" cy="258.1" r="2.35"/>
<circle cx="1265.0" cy="369.7" r="2.35"/>
<circle cx="1369.2" cy="267.0" r="2.35"/>
<circle cx="1238.2" cy="376.6" r="2.35"/>
<circle cx="1131.6" cy="487.9" r="2.35"/>
<circle cx="1184.4" cy="425.9" r="2.35"/>
<circle cx="1208.3" cy="420.2" r="2.35"/>
<circle cx="1272.6" cy="356.5" r="2.35"/>
<circle cx="1173.5" cy="442.6" r="2.35"/>
<circle cx="1258.4" cy="392.8" r="2.35"/>
<circle cx="1135.6" cy="472.3" r="2.35"/>
<circle cx="1395.9" cy="208.0" r="2.35"/>
<circle cx="1173.2" cy="447.5" r="2.35"/>
<circle cx="1178.3" cy="415.3" r="2.35"/>
<circle cx="1217.5" cy="413.7" r="2.35"/>
<circle cx="1097.5" cy="506.8" r="2.35"/>
<circle cx="1397.2" cy="276.8" r="2.35"/>
<circle cx="1501.9" cy="102.6" r="2.35"/>
<circle cx="1244.6" cy="395.3" r="2.35"/>
<circle cx="1400.0" cy="228.9" r="2.35"/>
<circle cx="1077.5" cy="523.0" r="2.35"/>
<circle cx="1256.1" cy="362.3" r="2.35"/>
<circle cx="1209.7" cy="401.8" r="2.35"/>
<circle cx="1097.1" cy="511.8" r="2.35"/>
<circle cx="1183.5" cy="427.0" r="2.35"/>
<circle cx="1437.2" cy="243.0" r="2.35"/>
<circle cx="1159.1" cy="469.2" r="2.35"/>
<circle cx="1263.5" cy="342.3" r="2.35"/>
<circle cx="1262.0" cy="377.1" r="2.35"/>
<circle cx="1192.2" cy="432.0" r="2.35"/>
<circle cx="1535.5" cy="102.6" r="2.35"/>
<circle cx="1480.5" cy="219.8" r="2.35"/>
<circle cx="1296.6" cy="330.3" r="2.35"/>
<circle cx="1552.0" cy="96.6" r="2.35"/>
<circle cx="1116.1" cy="490.1" r="2.35"/>
<circle cx="1274.7" cy="353.4" r="2.35"/>
<circle cx="1261.5" cy="352.4" r="2.35"/>
<circle cx="1176.5" cy="441.9" r="2.35"/>
<circle cx="1236.7" cy="405.3" r="2.35"/>
<circle cx="1405.7" cy="233.3" r="2.35"/>
<circle cx="1163.4" cy="466.1" r="2.35"/>
<circle cx="1313.2" cy="362.0" r="2.35"/>
<circle cx="1274.5" cy="342.3" r="2.35"/>
<circle cx="1242.0" cy="394.9" r="2.35"/>
<circle cx="1259.5" cy="360.9" r="2.35"/>
<circle cx="1304.3" cy="318.4" r="2.35"/>
<circle cx="1378.8" cy="294.4" r="2.35"/>
<circle cx="1158.2" cy="467.9" r="2.35"/>
<circle cx="1060.1" cy="539.3" r="2.35"/>
<circle cx="1279.4" cy="341.8" r="2.35"/>
<circle cx="1206.8" cy="412.1" r="2.35"/>
<circle cx="1195.6" cy="409.1" r="2.35"/>
<circle cx="1137.5" cy="473.2" r="2.35"/>
<circle cx="1223.0" cy="403.0" r="2.35"/>
<circle cx="1284.9" cy="337.5" r="2.35"/>
<circle cx="1110.6" cy="496.0" r="2.35"/>
<circle cx="1117.4" cy="487.6" r="2.35"/>
<circle cx="1243.1" cy="370.4" r="2.35"/>
<circle cx="1186.3" cy="425.5" r="2.35"/>
<circle cx="1254.9" cy="377.2" r="2.35"/>
<circle cx="1224.9" cy="383.0" r="2.35"/>
<circle cx="1114.8" cy="494.4" r="2.35"/>
<circle cx="1278.6" cy="368.3" r="2.35"/>
<circle cx="1154.0" cy="440.7" r="2.35"/>
<circle cx="1256.5" cy="370.2" r="2.35"/>
<circle cx="1238.2" cy="385.0" r="2.35"/>
<circle cx="1139.8" cy="467.4" r="2.35"/>
<circle cx="1087.5" cy="514.8" r="2.35"/>
<circle cx="1053.3" cy="543.3" r="2.35"/>
<circle cx="1284.3" cy="366.3" r="2.35"/>
<circle cx="1154.0" cy="450.2" r="2.35"/>
<circle cx="1241.8" cy="376.7" r="2.35"/>
<circle cx="1205.7" cy="410.3" r="2.35"/>
<circle cx="1237.2" cy="392.4" r="2.35"/>
<circle cx="1205.9" cy="428.7" r="2.35"/>
<circle cx="1246.6" cy="349.5" r="2.35"/>
<circle cx="1132.0" cy="474.2" r="2.35"/>
<circle cx="1181.8" cy="432.8" r="2.35"/>
<circle cx="1127.4" cy="473.2" r="2.35"/>
<circle cx="1314.6" cy="291.6" r="2.35"/>
<circle cx="1253.5" cy="368.2" r="2.35"/>
<circle cx="1181.5" cy="436.9" r="2.35"/>
<circle cx="1490.5" cy="180.0" r="2.35"/>
<circle cx="1231.5" cy="393.6" r="2.35"/>
<circle cx="1220.2" cy="418.4" r="2.35"/>
<circle cx="1314.5" cy="318.1" r="2.35"/>
<circle cx="1202.5" cy="408.3" r="2.35"/>
<circle cx="1235.2" cy="372.6" r="2.35"/>
<circle cx="1100.7" cy="504.9" r="2.35"/>
<circle cx="1222.7" cy="422.4" r="2.35"/>
<circle cx="1192.9" cy="406.5" r="2.35"/>
<circle cx="1324.4" cy="329.7" r="2.35"/>
<circle cx="1114.5" cy="487.9" r="2.35"/>
<circle cx="1165.7" cy="438.2" r="2.35"/>
<circle cx="1241.6" cy="385.4" r="2.35"/>
<circle cx="1127.0" cy="471.9" r="2.35"/>
<circle cx="1149.4" cy="476.4" r="2.35"/>
<circle cx="1355.3" cy="296.3" r="2.35"/>
<circle cx="1219.9" cy="387.1" r="2.35"/>
<circle cx="1157.1" cy="452.8" r="2.35"/>
<circle cx="1235.9" cy="414.9" r="2.35"/>
<circle cx="1321.4" cy="318.8" r="2.35"/>
<circle cx="1155.3" cy="442.2" r="2.35"/>
<circle cx="1078.1" cy="523.8" r="2.35"/>
<circle cx="1383.0" cy="277.8" r="2.35"/>
<circle cx="1478.8" cy="190.7" r="2.35"/>
<circle cx="1279.2" cy="341.4" r="2.35"/>
<circle cx="1257.5" cy="371.4" r="2.35"/>
<circle cx="1509.3" cy="131.4" r="2.35"/>
<circle cx="1140.3" cy="464.3" r="2.35"/>
<circle cx="1271.0" cy="363.0" r="2.35"/>
<circle cx="1131.7" cy="472.1" r="2.35"/>
<circle cx="1330.5" cy="291.2" r="2.35"/>
<circle cx="1318.6" cy="313.7" r="2.35"/>
<circle cx="1240.5" cy="373.3" r="2.35"/>
<circle cx="1268.8" cy="354.6" r="2.35"/>
<circle cx="1240.8" cy="417.7" r="2.35"/>
<circle cx="1370.8" cy="257.1" r="2.35"/>
<circle cx="1455.6" cy="147.2" r="2.35"/>
<circle cx="1191.4" cy="426.5" r="2.35"/>
<circle cx="1221.9" cy="373.0" r="2.35"/>
<circle cx="1230.8" cy="384.6" r="2.35"/>
<circle cx="1292.2" cy="345.3" r="2.35"/>
<circle cx="1197.9" cy="442.6" r="2.35"/>
<circle cx="1138.6" cy="473.3" r="2.35"/>
<circle cx="1384.5" cy="303.9" r="2.35"/>
<circle cx="1070.5" cy="531.0" r="2.35"/>
<circle cx="1118.2" cy="499.6" r="2.35"/>
<circle cx="1215.9" cy="428.0" r="2.35"/>
<circle cx="1136.2" cy="462.2" r="2.35"/>
<circle cx="1198.9" cy="415.8" r="2.35"/>
<circle cx="1091.8" cy="512.5" r="2.35"/>
<circle cx="1229.2" cy="384.3" r="2.35"/>
<circle cx="1365.2" cy="261.3" r="2.35"/>
<circle cx="1203.6" cy="410.9" r="2.35"/>
<circle cx="1174.4" cy="452.8" r="2.35"/>
<circle cx="1225.3" cy="396.9" r="2.35"/>
<circle cx="1264.4" cy="375.8" r="2.35"/>
<circle cx="1156.5" cy="453.5" r="2.35"/>
<circle cx="1223.3" cy="396.7" r="2.35"/>
<circle cx="1210.5" cy="412.1" r="2.35"/>
<circle cx="1331.7" cy="299.1" r="2.35"/>
<circle cx="1227.5" cy="405.2" r="2.35"/>
<circle cx="1104.4" cy="498.2" r="2.35"/>
<circle cx="1095.6" cy="504.6" r="2.35"/>
<circle cx="1332.0" cy="324.8" r="2.35"/>
<circle cx="1212.7" cy="400.9" r="2.35"/>
<circle cx="1204.8" cy="408.1" r="2.35"/>
<circle cx="1188.2" cy="424.8" r="2.35"/>
<circle cx="1275.2" cy="352.2" r="2.35"/>
<circle cx="1150.7" cy="466.4" r="2.35"/>
<circle cx="1145.1" cy="460.2" r="2.35"/>
<circle cx="1112.0" cy="490.0" r="2.35"/>
<circle cx="1292.3" cy="299.2" r="2.35"/>
<circle cx="1198.0" cy="409.5" r="2.35"/>
<circle cx="1110.9" cy="490.2" r="2.35"/>
<circle cx="1195.0" cy="420.5" r="2.35"/>
<circle cx="1227.9" cy="400.9" r="2.35"/>
<circle cx="1075.3" cy="522.5" r="2.35"/>
<circle cx="1184.1" cy="430.1" r="2.35"/>
<circle cx="1075.6" cy="523.3" r="2.35"/>
<circle cx="1125.6" cy="478.6" r="2.35"/>
<circle cx="1333.4" cy="270.5" r="2.35"/>
<circle cx="1147.9" cy="460.7" r="2.35"/>
<circle cx="1094.2" cy="508.3" r="2.35"/>
<circle cx="1126.3" cy="494.6" r="2.35"/>
<circle cx="1224.5" cy="395.2" r="2.35"/>
<circle cx="1081.5" cy="514.3" r="2.35"/>
<circle cx="1183.1" cy="435.2" r="2.35"/>
<circle cx="1237.3" cy="382.2" r="2.35"/>
<circle cx="1230.6" cy="386.8" r="2.35"/>
<circle cx="1265.1" cy="355.6" r="2.35"/>
<circle cx="1093.4" cy="509.8" r="2.35"/>
<circle cx="1207.2" cy="385.4" r="2.35"/>
<circle cx="1258.1" cy="331.1" r="2.35"/>
<circle cx="1283.5" cy="330.3" r="2.35"/>
<circle cx="1202.1" cy="421.5" r="2.35"/>
<circle cx="1176.0" cy="432.5" r="2.35"/>
<circle cx="1092.8" cy="508.3" r="2.35"/>
<circle cx="1166.3" cy="451.0" r="2.35"/>
<circle cx="1073.1" cy="529.1" r="2.35"/>
<circle cx="1091.3" cy="504.8" r="2.35"/>
<circle cx="1081.4" cy="525.9" r="2.35"/>
<circle cx="1298.7" cy="317.0" r="2.35"/>
<circle cx="1301.1" cy="331.7" r="2.35"/>
<circle cx="1491.8" cy="194.7" r="2.35"/>
<circle cx="1108.7" cy="494.6" r="2.35"/>
<circle cx="1148.6" cy="460.0" r="2.35"/>
<circle cx="1206.4" cy="413.6" r="2.35"/>
<circle cx="1335.9" cy="327.9" r="2.35"/>
<circle cx="1217.7" cy="400.3" r="2.35"/>
<circle cx="1102.7" cy="499.3" r="2.35"/>
<circle cx="1212.3" cy="407.5" r="2.35"/>
<circle cx="1261.9" cy="362.1" r="2.35"/>
<circle cx="1253.7" cy="401.6" r="2.35"/>
<circle cx="1211.9" cy="391.5" r="2.35"/>
<circle cx="1432.4" cy="261.9" r="2.35"/>
<circle cx="1073.6" cy="526.8" r="2.35"/>
<circle cx="1339.9" cy="308.7" r="2.35"/>
<circle cx="1238.0" cy="378.5" r="2.35"/>
<circle cx="1143.0" cy="464.0" r="2.35"/>
<circle cx="1231.0" cy="415.3" r="2.35"/>
<circle cx="1125.4" cy="478.2" r="2.35"/>
<circle cx="1305.3" cy="305.3" r="2.35"/>
<circle cx="1193.7" cy="414.8" r="2.35"/>
<circle cx="1423.5" cy="191.6" r="2.35"/>
<circle cx="1124.1" cy="496.2" r="2.35"/>
<circle cx="1126.4" cy="476.2" r="2.35"/>
<circle cx="1186.6" cy="435.9" r="2.35"/>
<circle cx="1134.1" cy="469.0" r="2.35"/>
<circle cx="1135.6" cy="482.0" r="2.35"/>
<circle cx="1152.8" cy="464.0" r="2.35"/>
<circle cx="1079.5" cy="516.0" r="2.35"/>
<circle cx="1124.8" cy="485.0" r="2.35"/>
<circle cx="1182.8" cy="429.8" r="2.35"/>
<circle cx="1094.9" cy="502.0" r="2.35"/>
<circle cx="1473.7" cy="143.3" r="2.35"/>
<circle cx="1401.3" cy="274.4" r="2.35"/>
<circle cx="1441.6" cy="209.7" r="2.35"/>
<circle cx="1252.5" cy="371.4" r="2.35"/>
<circle cx="1256.4" cy="360.7" r="2.35"/>
<circle cx="1097.9" cy="511.2" r="2.35"/>
<circle cx="1209.1" cy="413.3" r="2.35"/>
<circle cx="1262.3" cy="363.5" r="2.35"/>
<circle cx="1203.0" cy="421.7" r="2.35"/>
<circle cx="1165.1" cy="438.9" r="2.35"/>
<circle cx="1110.8" cy="492.2" r="2.35"/>
<circle cx="1479.4" cy="176.9" r="2.35"/>
<circle cx="1084.9" cy="515.7" r="2.35"/>
<circle cx="1364.9" cy="317.5" r="2.35"/>
<circle cx="1114.4" cy="501.9" r="2.35"/>
<circle cx="1231.0" cy="431.9" r="2.35"/>
<circle cx="1310.5" cy="317.9" r="2.35"/>
<circle cx="1143.8" cy="474.1" r="2.35"/>
<circle cx="1396.9" cy="232.7" r="2.35"/>
<circle cx="1170.3" cy="461.9" r="2.35"/>
<circle cx="1322.1" cy="305.0" r="2.35"/>
<circle cx="1175.8" cy="442.1" r="2.35"/>
<circle cx="1110.0" cy="494.8" r="2.35"/>
<circle cx="1068.5" cy="527.5" r="2.35"/>
<circle cx="1343.6" cy="300.1" r="2.35"/>
<circle cx="1103.3" cy="503.2" r="2.35"/>
<circle cx="1213.4" cy="402.7" r="2.35"/>
<circle cx="1100.7" cy="510.2" r="2.35"/>
<circle cx="1216.9" cy="407.2" r="2.35"/>
<circle cx="1062.8" cy="534.7" r="2.35"/>
<circle cx="1462.3" cy="203.4" r="2.35"/>
<circle cx="1415.3" cy="217.7" r="2.35"/>
<circle cx="1209.3" cy="400.5" r="2.35"/>
<circle cx="1230.1" cy="400.4" r="2.35"/>
<circle cx="1232.5" cy="390.4" r="2.35"/>
<circle cx="1166.7" cy="440.7" r="2.35"/>
<circle cx="1204.3" cy="370.5" r="2.35"/>
<circle cx="1219.1" cy="397.2" r="2.35"/>
<circle cx="1145.9" cy="460.8" r="2.35"/>
<circle cx="1077.3" cy="525.9" r="2.35"/>
<circle cx="1082.8" cy="513.7" r="2.35"/>
<circle cx="1272.8" cy="331.0" r="2.35"/>
<circle cx="1216.3" cy="397.3" r="2.35"/>
<circle cx="1273.8" cy="353.4" r="2.35"/>
<circle cx="1210.3" cy="386.3" r="2.35"/>
<circle cx="1081.3" cy="523.0" r="2.35"/>
<circle cx="1467.4" cy="205.0" r="2.35"/>
<circle cx="1230.5" cy="334.5" r="2.35"/>
<circle cx="1286.8" cy="362.5" r="2.35"/>
<circle cx="1363.9" cy="267.7" r="2.35"/>
<circle cx="1179.2" cy="442.0" r="2.35"/>
<circle cx="1266.3" cy="342.4" r="2.35"/>
<circle cx="1099.5" cy="512.7" r="2.35"/>
<circle cx="1174.5" cy="427.8" r="2.35"/>
<circle cx="1248.0" cy="369.4" r="2.35"/>
<circle cx="1200.8" cy="411.6" r="2.35"/>
<circle cx="1353.2" cy="312.6" r="2.35"/>
<circle cx="1220.7" cy="405.9" r="2.35"/>
<circle cx="1121.7" cy="489.5" r="2.35"/>
<circle cx="1070.8" cy="528.8" r="2.35"/>
<circle cx="1152.2" cy="459.1" r="2.35"/>
<circle cx="1058.6" cy="538.6" r="2.35"/>
<circle cx="1138.9" cy="460.6" r="2.35"/>
<circle cx="1262.4" cy="357.5" r="2.35"/>
<circle cx="1117.7" cy="482.4" r="2.35"/>
<circle cx="1337.5" cy="293.5" r="2.35"/>
<circle cx="1146.3" cy="459.4" r="2.35"/>
<circle cx="1063.8" cy="535.9" r="2.35"/>
<circle cx="1113.3" cy="492.2" r="2.35"/>
<circle cx="1079.3" cy="521.4" r="2.35"/>
<circle cx="1098.4" cy="507.9" r="2.35"/>
<circle cx="1255.3" cy="372.7" r="2.35"/>
<circle cx="1144.0" cy="461.8" r="2.35"/>
<circle cx="1098.3" cy="500.8" r="2.35"/>
<circle cx="1229.8" cy="390.0" r="2.35"/>
<circle cx="1184.0" cy="418.7" r="2.35"/>
<circle cx="1085.3" cy="516.1" r="2.35"/>
<circle cx="1113.1" cy="488.2" r="2.35"/>
<circle cx="1222.5" cy="405.5" r="2.35"/>
<circle cx="1111.2" cy="500.5" r="2.35"/>
<circle cx="1080.1" cy="522.3" r="2.35"/>
<circle cx="1248.3" cy="383.8" r="2.35"/>
<circle cx="1072.6" cy="530.1" r="2.35"/>
<circle cx="1084.1" cy="518.7" r="2.35"/>
<circle cx="1244.4" cy="379.2" r="2.35"/>
<circle cx="1140.5" cy="478.4" r="2.35"/>
<circle cx="1204.7" cy="419.2" r="2.35"/>
<circle cx="1137.3" cy="457.4" r="2.35"/>
<circle cx="1550.6" cy="99.8" r="2.35"/>
<circle cx="1287.7" cy="332.5" r="2.35"/>
<circle cx="1239.0" cy="366.1" r="2.35"/>
<circle cx="1243.1" cy="388.5" r="2.35"/>
<circle cx="1111.5" cy="497.2" r="2.35"/>
<circle cx="1237.0" cy="404.3" r="2.35"/>
<circle cx="1101.7" cy="504.6" r="2.35"/>
<circle cx="1178.4" cy="447.8" r="2.35"/>
<circle cx="1454.0" cy="186.5" r="2.35"/>
<circle cx="1146.7" cy="469.2" r="2.35"/>
<circle cx="1166.1" cy="442.6" r="2.35"/>
<circle cx="1160.7" cy="451.7" r="2.35"/>
<circle cx="1154.3" cy="464.9" r="2.35"/>
<circle cx="1199.1" cy="417.0" r="2.35"/>
<circle cx="1193.4" cy="422.1" r="2.35"/>
<circle cx="1305.5" cy="326.8" r="2.35"/>
<circle cx="1255.5" cy="358.1" r="2.35"/>
<circle cx="1232.9" cy="385.8" r="2.35"/>
<circle cx="1114.3" cy="479.3" r="2.35"/>
<circle cx="1319.4" cy="296.7" r="2.35"/>
<circle cx="1283.1" cy="347.7" r="2.35"/>
<circle cx="1466.4" cy="230.4" r="2.35"/>
<circle cx="1265.6" cy="373.4" r="2.35"/>
<circle cx="1161.8" cy="440.6" r="2.35"/>
<circle cx="1194.1" cy="410.4" r="2.35"/>
<circle cx="1248.9" cy="375.9" r="2.35"/>
<circle cx="1081.1" cy="523.0" r="2.35"/>
<circle cx="1384.5" cy="284.8" r="2.35"/>
<circle cx="1454.7" cy="202.0" r="2.35"/>
<circle cx="1078.6" cy="524.6" r="2.35"/>
<circle cx="1072.7" cy="530.7" r="2.35"/>
<circle cx="1324.7" cy="287.6" r="2.35"/>
<circle cx="1288.6" cy="341.2" r="2.35"/>
<circle cx="1190.3" cy="440.5" r="2.35"/>
<circle cx="1383.9" cy="234.2" r="2.35"/>
<circle cx="1150.5" cy="470.9" r="2.35"/>
<circle cx="1166.9" cy="452.9" r="2.35"/>
<circle cx="1121.2" cy="494.2" r="2.35"/>
<circle cx="1186.8" cy="426.0" r="2.35"/>
<circle cx="1133.1" cy="482.4" r="2.35"/>
<circle cx="1524.6" cy="152.1" r="2.35"/>
<circle cx="1185.2" cy="388.3" r="2.35"/>
<circle cx="1227.0" cy="368.6" r="2.35"/>
<circle cx="1124.6" cy="479.2" r="2.35"/>
<circle cx="1191.8" cy="440.9" r="2.35"/>
<circle cx="1126.9" cy="481.4" r="2.35"/>
<circle cx="1106.1" cy="494.6" r="2.35"/>
<circle cx="1251.3" cy="380.4" r="2.35"/>
<circle cx="1140.1" cy="471.7" r="2.35"/>
<circle cx="1098.6" cy="508.5" r="2.35"/>
<circle cx="1054.3" cy="543.6" r="2.35"/>
<circle cx="1112.4" cy="464.5" r="2.35"/>
<circle cx="1156.2" cy="449.5" r="2.35"/>
<circle cx="1310.9" cy="312.5" r="2.35"/>
<circle cx="1188.7" cy="430.7" r="2.35"/>
<circle cx="1149.2" cy="427.7" r="2.35"/>
<circle cx="1313.6" cy="305.1" r="2.35"/>
<circle cx="1288.9" cy="329.4" r="2.35"/>
<circle cx="1147.8" cy="467.1" r="2.35"/>
<circle cx="1093.4" cy="514.5" r="2.35"/>
<circle cx="1178.9" cy="428.2" r="2.35"/>
<circle cx="1102.4" cy="497.6" r="2.35"/>
<circle cx="1183.6" cy="440.5" r="2.35"/>
<circle cx="1311.2" cy="308.2" r="2.35"/>
<circle cx="1184.8" cy="424.8" r="2.35"/>
<circle cx="1323.5" cy="341.1" r="2.35"/>
<circle cx="1285.4" cy="346.1" r="2.35"/>
<circle cx="1199.6" cy="404.5" r="2.35"/>
<circle cx="1100.7" cy="507.1" r="2.35"/>
<circle cx="1196.2" cy="412.4" r="2.35"/>
<circle cx="1300.2" cy="304.3" r="2.35"/>
<circle cx="1159.4" cy="445.2" r="2.35"/>
<circle cx="1448.8" cy="192.4" r="2.35"/>
<circle cx="1375.0" cy="246.4" r="2.35"/>
<circle cx="1299.4" cy="327.9" r="2.35"/>
<circle cx="1282.8" cy="330.2" r="2.35"/>
<circle cx="1166.9" cy="441.5" r="2.35"/>
<circle cx="1227.0" cy="406.0" r="2.35"/>
<circle cx="1446.8" cy="178.0" r="2.35"/>
<circle cx="1307.1" cy="359.2" r="2.35"/>
<circle cx="1097.0" cy="497.4" r="2.35"/>
<circle cx="1106.7" cy="498.0" r="2.35"/>
<circle cx="1107.0" cy="491.3" r="2.35"/>
<circle cx="1148.2" cy="455.4" r="2.35"/>
<circle cx="1303.7" cy="311.9" r="2.35"/>
<circle cx="1262.9" cy="380.4" r="2.35"/>
<circle cx="1140.7" cy="455.3" r="2.35"/>
<circle cx="1159.9" cy="451.8" r="2.35"/>
</g>
<clipPath id="rc"><rect x="1029.00" y="64.00" width="575.00" height="501.50"/></clipPath>
<path d="M1028.50 566.00 L1604.50 63.50" stroke="#ff0000" stroke-width="3.0" stroke-dasharray="2.5 1.3" fill="none" clip-path="url(#rc)"/>
<text transform="translate(1019.11 606.80) scale(0.9493 1.0000)" font-family="'Liberation Sans',sans-serif" font-style="normal" font-weight="normal" font-size="35" fill="#000" stroke="#000" stroke-width="0.35">0</text>
<text transform="translate(1008.32 581.10) scale(0.9433 1.0000)" font-family="'Liberation Sans',sans-serif" font-style="normal" font-weight="normal" font-size="35" fill="#000" stroke="#000" stroke-width="0.35">0</text>
<text transform="translate(1191.63 606.80) scale(0.9784 1.0000)" font-family="'Liberation Sans',sans-serif" font-style="normal" font-weight="normal" font-size="35" fill="#000" stroke="#000" stroke-width="0.35">500</text>
<text transform="translate(969.53 413.60) scale(0.9784 1.0000)" font-family="'Liberation Sans',sans-serif" font-style="normal" font-weight="normal" font-size="35" fill="#000" stroke="#000" stroke-width="0.35">500</text>
<text transform="translate(1376.37 606.80) scale(0.9559 1.0000)" font-family="'Liberation Sans',sans-serif" font-style="normal" font-weight="normal" font-size="35" fill="#000" stroke="#000" stroke-width="0.35">1000</text>
<text transform="translate(952.17 246.10) scale(0.9559 1.0000)" font-family="'Liberation Sans',sans-serif" font-style="normal" font-weight="normal" font-size="35" fill="#000" stroke="#000" stroke-width="0.35">1000</text>
<text transform="translate(1568.27 606.80) scale(0.9573 1.0000)" font-family="'Liberation Sans',sans-serif" font-style="normal" font-weight="normal" font-size="35" fill="#000" stroke="#000" stroke-width="0.35">1500</text>
<text transform="translate(951.86 78.60) scale(0.9600 1.0000)" font-family="'Liberation Sans',sans-serif" font-style="normal" font-weight="normal" font-size="35" fill="#000" stroke="#000" stroke-width="0.35">1500</text>
<text transform="translate(1102.64 33.40) scale(0.9672 1.0000)" font-family="'Liberation Sans',sans-serif" font-style="normal" font-weight="normal" font-size="35" fill="#000" stroke="#000" stroke-width="0.35">Linear approximation validity</text>
<text transform="translate(1056.82 649.70) scale(0.9738 1.0000)" font-family="'Liberation Sans',sans-serif" font-style="normal" font-weight="normal" font-size="35" fill="#000" stroke="#000" stroke-width="0.35">Disp. var. (linear stratification) [m<tspan dy="-16.5" font-size="27.5">2</tspan><tspan dy="16.5">]</tspan></text>
<text transform="translate(939.10 604.50) rotate(-90) scale(0.9795 1.0000)" x="-2.75" y="0" font-family="'Liberation Sans',sans-serif" font-style="normal" font-weight="normal" font-size="35" fill="#000" stroke="#000" stroke-width="0.35">Disp. var. (quadratic stratification) [m<tspan dy="-16.5" font-size="27.5">2</tspan><tspan dy="16.5">]</tspan></text>
<text transform="translate(1040.46 100.30) scale(0.9699 1.0000)" font-family="'Liberation Sans',sans-serif" font-style="normal" font-weight="bold" font-size="30" fill="#000" >B</text>
</g>
</svg>
</body></html>
